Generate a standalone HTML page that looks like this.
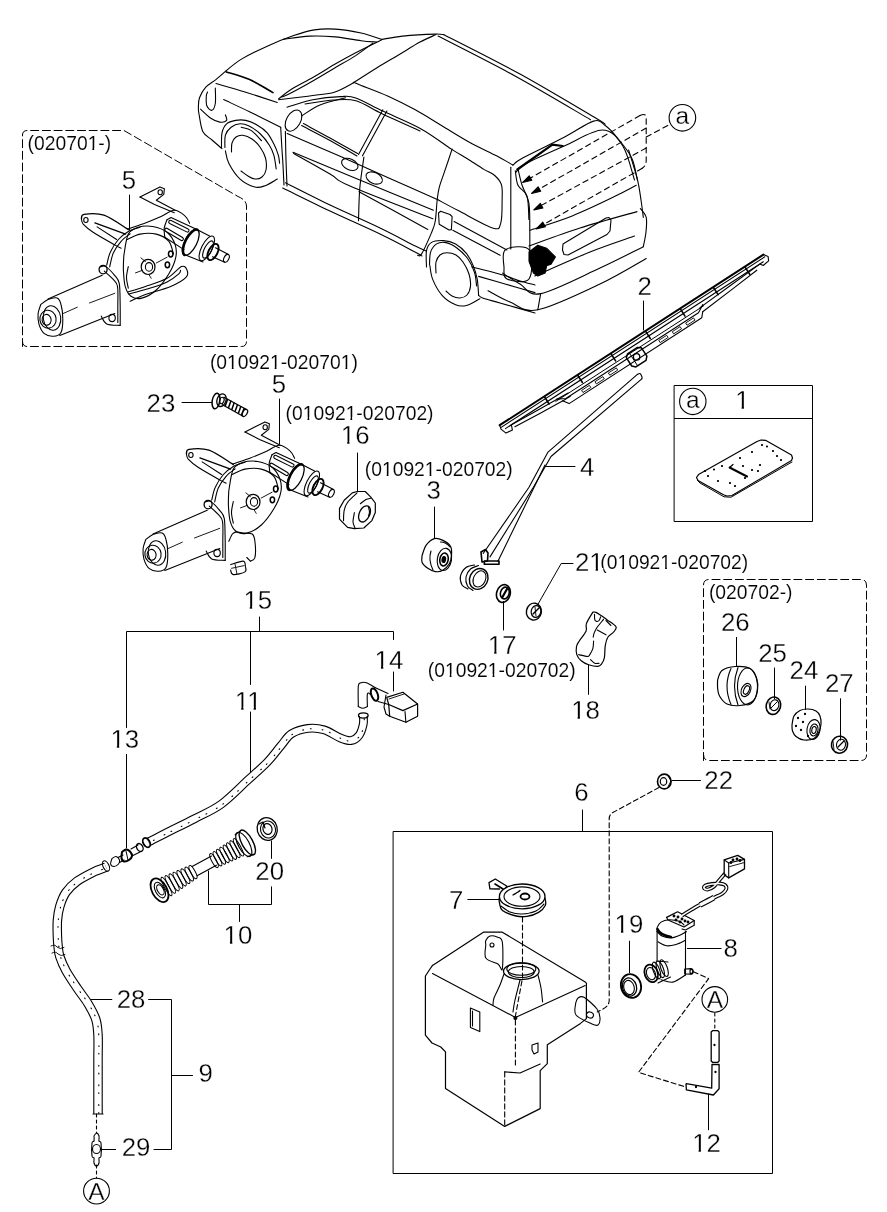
<!DOCTYPE html>
<html><head><meta charset="utf-8"><style>
html,body{margin:0;padding:0;background:#fff;}
svg{display:block;filter:grayscale(1);}
svg text{font-family:"Liberation Sans",sans-serif;fill:#000;stroke:#fff;stroke-width:0.3px;}
svg text.d{stroke-width:0.12px;}
</style></head><body>
<svg width="887" height="1212" viewBox="0 0 887 1212">
<rect width="887" height="1212" fill="#fff"/>
<g fill="none" stroke="#000" stroke-width="1.1" stroke-linejoin="round" stroke-linecap="round">
<text x="27.6" y="150.0" font-size="19.3" class="d">(020701-)</text>
<text x="121.8" y="188.6" font-size="25.8">5</text>
<text x="209.9" y="368.9" font-size="19.3" class="d">(010921-020701)</text>
<text x="271.8" y="392.5" font-size="25.8">5</text>
<text x="146.6" y="412.0" font-size="25.8">23</text>
<text x="285.6" y="419.5" font-size="19.3" class="d">(010921-020702)</text>
<text x="340.8" y="443.9" font-size="25.8">16</text>
<text x="364.8" y="475.6" font-size="19.3" class="d">(010921-020702)</text>
<text x="426.5" y="499.4" font-size="25.8">3</text>
<text x="580.0" y="476.0" font-size="25.8">4</text>
<text x="735.2" y="409.3" font-size="25.8">1</text>
<text x="637.6" y="294.5" font-size="25.8">2</text>
<text x="574.9" y="570.7" font-size="25.8">21</text>
<text x="600.3" y="568.9" font-size="19.3" class="d">(010921-020702)</text>
<text x="708.9" y="598.7" font-size="19.3" class="d">(020702-)</text>
<text x="721.0" y="630.9" font-size="25.8">26</text>
<text x="758.2" y="661.6" font-size="25.8">25</text>
<text x="789.6" y="678.9" font-size="25.8">24</text>
<text x="824.9" y="692.2" font-size="25.8">27</text>
<text x="571.2" y="718.6" font-size="25.8">18</text>
<text x="487.8" y="654.4" font-size="25.8">17</text>
<text x="427.8" y="676.5" font-size="19.3" class="d">(010921-020702)</text>
<text x="243.4" y="608.7" font-size="25.8">15</text>
<text x="374.6" y="668.9" font-size="25.8">14</text>
<text x="234.8" y="709.6" font-size="25.8">11</text>
<text x="110.5" y="747.5" font-size="25.8">13</text>
<text x="255.3" y="879.9" font-size="25.8">20</text>
<text x="223.6" y="944.3" font-size="25.8">10</text>
<text x="116.7" y="1007.6" font-size="25.8">28</text>
<text x="198.6" y="1081.5" font-size="25.8">9</text>
<text x="121.7" y="1156.4" font-size="25.8">29</text>
<text x="574.2" y="800.8" font-size="25.8">6</text>
<text x="704.3" y="788.9" font-size="25.8">22</text>
<text x="449.0" y="908.8" font-size="25.8">7</text>
<text x="614.6" y="933.3" font-size="25.8">19</text>
<text x="723.4" y="956.5" font-size="25.8">8</text>
<text x="692.2" y="1152.0" font-size="25.8">12</text>
<circle cx="682.4" cy="117.8" r="13.3"/>
<text x="682.4" y="124.4" font-size="24.5" text-anchor="middle">a</text>
<circle cx="692.8" cy="401.4" r="13.2"/>
<text x="692.8" y="408.0" font-size="24.5" text-anchor="middle">a</text>
<circle cx="96.5" cy="1191.1" r="12.9"/>
<text x="96.5" y="1199.6" font-size="24.5" text-anchor="middle">A</text>
<circle cx="714.8" cy="999.4" r="12.8"/>
<text x="714.8" y="1007.9" font-size="24.5" text-anchor="middle">A</text>
<path d="M22.5,346.5 L22.5,135 Q22.5,130.5 27,130.5 L124,130.5 L238,196.5 Q246.5,200 246.5,206 L246.5,341.5 Q246.5,346.5 241.5,346.5 L27,346.5 Q22.5,346.5 22.5,341.5" fill="none" stroke-width="1" stroke-dasharray="8 3.7"/>
<path d="M703.5,760.5 L703.5,585 Q703.5,579.5 709,579.5 L861,579.5 Q866.5,579.5 866.5,585 L866.5,755 Q866.5,760.5 861,760.5 L709,760.5 Q703.5,760.5 703.5,755" fill="none" stroke-width="1" stroke-dasharray="8 3.7"/>
<rect x="674.5" y="385.5" width="138" height="136" stroke-width="1"/>
<polyline points="674.5,418.5 812.5,418.5" stroke-width="1"/>
<rect x="393.5" y="831.5" width="379" height="342" stroke-width="1"/>
<polyline points="129.5,195 129.5,230" stroke-width="1"/>
<polyline points="279.5,399 279.5,444" stroke-width="1"/>
<polyline points="182,402.5 212,402.5" stroke-width="1"/>
<polyline points="357.5,453 357.5,491" stroke-width="1"/>
<polyline points="434.5,507 434.5,538" stroke-width="1"/>
<polyline points="545.5,466.5 575,466.5" stroke-width="1"/>
<polyline points="643.5,301 643.5,330" stroke-width="1"/>
<polyline points="537.8,604.5 561.2,563.5 573,563.5" stroke-width="1"/>
<polyline points="503.5,601.4 503.5,630" stroke-width="1"/>
<polyline points="588.5,664.6 588.5,694.4" stroke-width="1"/>
<polyline points="736.5,637.4 736.5,666.3" stroke-width="1"/>
<polyline points="774.5,668 774.5,698.7" stroke-width="1"/>
<polyline points="805.5,686.1 805.5,709.5" stroke-width="1"/>
<polyline points="840.5,698.7 840.5,740.2" stroke-width="1"/>
<polyline points="259.5,617 259.5,631.5" stroke-width="1"/>
<polyline points="126.5,727.5 126.5,631.5 393.5,631.5 393.5,639.5" stroke-width="1"/>
<polyline points="250.5,631.5 250.5,684.5" stroke-width="1"/>
<polyline points="250.5,712 250.5,773.6" stroke-width="1"/>
<polyline points="126.5,754.4 126.5,848" stroke-width="1"/>
<polyline points="393.5,672 393.5,691" stroke-width="1"/>
<polyline points="271.5,841 271.5,858.4" stroke-width="1"/>
<polyline points="271.5,886.8 271.5,904.5 208.5,904.5 208.5,871" stroke-width="1"/>
<polyline points="239.5,904.5 239.5,921.5" stroke-width="1"/>
<polyline points="90.8,999.5 111.8,999.5" stroke-width="1"/>
<polyline points="148.6,999.5 171.5,999.5 171.5,1149.5 154,1149.5" stroke-width="1"/>
<polyline points="171.5,1075.5 192.5,1075.5" stroke-width="1"/>
<polyline points="100.7,1149.5 115.6,1149.5" stroke-width="1"/>
<polyline points="582.5,810 582.5,831.5" stroke-width="1"/>
<polyline points="672.1,780.5 700.5,780.5" stroke-width="1"/>
<polyline points="467.8,899.5 499.3,899.5" stroke-width="1"/>
<polyline points="629.5,941.2 629.5,972.6" stroke-width="1"/>
<polyline points="687.4,948.5 721.1,948.5" stroke-width="1"/>
<polyline points="708.5,1094 708.5,1129.8" stroke-width="1"/>
<path d="M226.3,70.6 C228.9,68.6 235.0,63.0 241.9,58.9 C248.8,54.8 259.2,49.8 267.8,45.9 C276.4,42.0 285.9,38.3 293.7,35.6 C301.5,32.9 307.5,31.0 314.4,29.9 C321.3,28.8 327.4,28.6 335.2,29.1 C343.0,29.6 353.3,31.3 361.1,33.0 C368.9,34.7 378.4,38.3 381.9,39.4" fill="none"/>
<path d="M381.9,39.4 C385.3,38.9 393.7,37.0 402.6,36.1 C411.5,35.2 428.3,34.3 435.2,34.1 C442.1,33.9 442.5,34.6 444.0,34.7" fill="none"/>
<path d="M283.3,39.4 C287.6,38.9 300.7,36.5 309.3,36.1 C317.9,35.7 326.6,36.1 335.2,36.9 C343.8,37.7 354.2,39.9 361.1,40.7 C368.0,41.6 374.1,41.8 376.7,42.0" fill="none"/>
<path d="M381.4,40.0 C377.1,42.1 363.5,48.7 355.7,52.8 C347.9,56.9 341.4,60.5 334.3,64.6 C327.2,68.7 320.0,73.4 312.8,77.5 C305.6,81.6 297.1,85.7 291.4,89.3 C285.7,92.9 280.7,97.3 278.6,98.9" fill="none"/>
<path d="M372.8,43.2 C369.9,45.3 362.1,51.4 355.7,55.6 C349.3,59.8 341.4,64.0 334.3,68.2 C327.2,72.4 320.0,76.9 312.8,81.0 C305.6,85.1 296.6,90.1 291.4,92.8 C286.2,95.5 283.4,96.3 281.8,97.0" fill="none"/>
<path d="M226.3,71.9 C230.2,73.2 241.8,76.1 249.6,79.6 C257.4,83.0 269.1,90.4 273.0,92.6" fill="none" stroke-width="1.6"/>
<path d="M436.0,34.6 C433.3,35.9 426.2,38.7 420.0,42.1 C413.8,45.5 405.7,50.7 398.5,55.0 C391.3,59.3 384.5,63.2 377.0,67.8 C369.5,72.4 357.4,80.3 353.5,82.8" fill="none"/>
<path d="M278.6,99.8 C284.3,99.1 303.5,96.8 312.8,95.5 C322.1,94.2 327.4,94.4 334.2,92.3 C341.0,90.2 350.3,84.4 353.5,82.8" fill="none"/>
<path d="M287.0,107.2 C291.3,106.0 303.9,101.6 312.8,99.8 C321.7,98.0 333.4,96.9 340.6,96.6 C347.8,96.3 348.8,95.5 355.8,97.9 C362.8,100.3 372.0,106.0 382.8,111.1 C393.6,116.2 409.3,122.4 420.7,128.7 C432.1,135.0 443.7,144.1 451.4,149.1 C459.1,154.1 461.6,155.1 467.0,158.5 C472.4,161.9 479.3,166.6 483.9,169.4 C488.5,172.2 491.8,172.9 494.7,175.5 C497.6,178.1 500.3,180.6 501.5,184.9 C502.7,189.2 502.2,194.9 502.1,201.2 C502.0,207.5 502.3,218.3 500.8,222.8 C499.3,227.3 500.4,230.2 493.3,228.2 C486.2,226.2 467.4,215.3 458.2,210.6 C449.0,205.9 441.3,201.6 437.9,199.8" fill="none"/>
<path d="M305.0,104.0 C309.8,103.3 325.5,100.5 334.0,100.0 C342.5,99.5 348.0,98.5 356.0,100.8 C364.0,103.1 371.3,108.8 382.0,113.8 C392.7,118.8 413.7,128.1 420.0,131.0" fill="none"/>
<path d="M353.3,82.2 C354.6,82.7 355.4,83.1 361.2,85.4 C367.0,87.7 379.2,92.1 388.2,96.2 C397.2,100.3 406.3,104.8 415.3,109.8 C424.3,114.8 433.3,120.6 442.3,126.0 C451.3,131.4 460.4,137.2 469.4,142.2 C478.4,147.2 489.2,152.0 496.5,155.8 C503.8,159.6 510.2,163.6 512.9,165.1" fill="none"/>
<path d="M444.0,34.7 C456.7,41.2 495.1,60.3 520.0,74.0 C544.9,87.7 579.3,108.4 593.5,116.7 C607.7,125.0 603.2,122.9 605.2,124.1" fill="none"/>
<path d="M438.1,36.1 C450.9,42.8 489.6,62.1 515.0,76.0 C540.4,89.9 577.9,112.4 590.5,119.7" fill="none"/>
<path d="M512.9,165.1 C514.6,163.9 514.5,162.4 523.1,157.8 C531.7,153.2 552.5,143.4 564.2,137.3 C575.9,131.2 586.7,123.1 593.5,121.1 C600.3,119.1 601.3,122.8 605.2,125.5 C609.1,128.2 612.5,131.9 616.9,137.3 C621.3,142.7 628.2,150.7 631.6,157.8 C635.0,164.9 636.4,176.3 637.4,180.0" fill="none"/>
<path d="M515.8,172.4 C517.5,170.9 517.9,168.0 526.0,163.6 C534.1,159.2 551.5,151.6 564.2,146.0 C576.9,140.4 592.5,130.0 602.3,130.0 C612.1,130.0 617.4,137.7 622.8,146.0 C628.2,154.3 632.5,174.3 634.5,180.0" fill="none"/>
<path d="M517.3,169.5 L552.4,144.6 L562.7,146.0" fill="none" stroke-width="2.2"/>
<path d="M510.8,167.2 L510.8,249.0" fill="none"/>
<path d="M518.0,169.0 C518.7,171.7 520.2,179.3 522.0,185.0 C523.8,190.7 527.6,195.8 528.9,203.3 C530.2,210.9 529.6,221.3 529.8,230.3 C529.9,239.3 529.8,252.9 529.8,257.4" fill="none"/>
<path d="M515.3,170.8 C515.8,173.2 516.0,181.1 518.0,185.3 C520.0,189.5 525.2,190.4 527.0,196.1 C528.8,201.8 528.6,215.6 528.9,219.5" fill="none"/>
<path d="M529.8,230.3 C536.9,227.9 557.9,221.6 572.2,215.9 C586.5,210.2 604.7,201.2 615.4,196.1 C626.1,191.0 632.7,187.1 636.2,185.3" fill="none"/>
<path d="M628.6,150.0 C630.1,154.9 635.3,171.0 637.4,179.3 C639.5,187.6 640.0,193.7 641.0,200.0 C642.0,206.3 642.9,214.5 643.3,217.4" fill="none"/>
<path d="M640.4,208.6 C641.4,210.1 645.3,213.5 646.2,217.4 C647.1,221.3 646.5,227.1 646.0,232.0 C645.5,236.9 643.8,244.2 643.3,246.7" fill="none"/>
<path d="M529.0,246.0 C537.5,243.0 562.0,233.7 580.0,228.0 C598.0,222.3 627.5,214.3 637.0,211.6" fill="none"/>
<path d="M534.8,276.0 C544.0,272.0 573.4,258.7 590.0,252.0 C606.6,245.3 627.1,238.7 634.5,236.0" fill="none"/>
<path d="M502.6,273.1 C505.5,274.9 513.6,280.6 520.0,284.0 C526.4,287.4 527.4,296.3 540.7,293.6 C554.0,290.9 582.9,275.8 600.0,268.0 C617.1,260.2 636.1,250.2 643.3,246.7" fill="none"/>
<path d="M488.0,290.7 C491.7,292.6 501.7,298.8 510.0,302.0 C518.3,305.2 522.8,312.8 537.8,309.8 C552.8,306.8 581.9,292.6 600.0,284.0 C618.1,275.4 638.5,262.8 646.2,258.5" fill="none"/>
<path d="M540.7,293.6 C540.2,296.3 538.3,307.1 537.8,309.8" fill="none"/>
<path d="M563.0,244.0 L606.0,218.0 L609.0,217.5 L611.0,220.0 L610.0,231.0 L607.0,234.5 L568.0,255.0 L564.0,254.5 L562.5,250.0Z" fill="none"/>
<path d="M505.5,249.7 C509.7,246.8 525.1,244.8 529.0,249.7 C532.9,254.6 532.7,274.1 529.0,279.0 C525.3,283.9 511.2,280.9 507.0,279.0 C502.8,277.1 504.2,272.2 504.0,267.3 C503.8,262.4 501.3,252.6 505.5,249.7Z" fill="none"/>
<path d="M529.0,252.0 L537.8,245.3 L546.6,248.2 L555.4,257.0 L551.0,264.3 L546.6,265.8 L545.1,273.1 L537.8,276.0 L533.4,273.1 L529.0,261.4Z" fill="#000"/>
<path d="M452.1,149.1 C450.9,152.8 446.8,165.0 444.6,171.4 C442.5,177.8 440.4,182.9 439.2,187.6 C438.0,192.3 437.9,194.2 437.2,199.8 C436.5,205.5 436.2,215.9 435.2,221.5 C434.2,227.1 433.4,228.2 431.1,233.6 C428.8,239.0 423.9,250.3 421.6,253.9 C419.4,257.5 418.3,255.1 417.6,255.3" fill="none"/>
<path d="M440.6,211.3 L450.0,214.5 L452.1,216.7 L451.4,229.6 L449.0,230.0 L439.2,224.2 L438.5,213.0Z" fill="none"/>
<path d="M426.5,267.0 C426.5,264.3 425.7,254.8 426.5,250.7 C427.3,246.6 428.4,244.3 431.2,242.6 C434.0,240.9 439.3,240.4 443.4,240.6 C447.5,240.8 451.8,241.8 455.6,243.9 C459.4,246.0 463.5,249.8 466.4,253.4 C469.3,257.0 471.4,261.3 473.2,265.6 C475.0,269.9 476.3,274.2 477.2,279.1 C478.1,284.1 478.4,292.6 478.6,295.3" fill="none"/>
<path d="M429.5,265.0 C429.7,262.9 429.4,255.6 430.6,252.1 C431.8,248.6 434.0,245.5 436.6,243.9 C439.2,242.3 442.7,241.9 446.1,242.6 C449.5,243.3 453.3,245.3 456.9,248.0 C460.5,250.7 464.9,254.8 467.8,258.8 C470.7,262.9 473.0,267.8 474.5,272.3 C476.0,276.8 476.2,283.6 476.6,285.9" fill="none"/>
<path d="M429.9,265.6 C430.3,267.9 430.6,274.2 432.6,279.1 C434.6,284.1 438.3,291.0 442.1,295.3 C445.9,299.6 451.6,303.1 455.6,304.8 C459.7,306.5 462.3,306.5 466.4,305.5 C470.4,304.5 477.6,299.8 479.9,298.7" fill="none"/>
<path d="M436.0,273.0 C436.0,271.2 435.3,265.0 436.0,262.0 C436.7,259.0 438.2,256.6 440.0,255.0 C441.8,253.4 444.3,252.7 447.0,252.7 C449.7,252.7 453.3,253.4 456.0,255.0 C458.7,256.6 460.8,258.8 463.0,262.0 C465.2,265.2 467.8,270.0 469.0,274.0 C470.2,278.0 470.8,282.5 470.5,286.0 C470.2,289.5 468.8,293.0 467.0,295.0 C465.2,297.0 462.5,297.8 460.0,298.0 C457.5,298.2 454.3,297.2 452.0,296.0 C449.7,294.8 447.0,291.8 446.0,291.0" fill="none"/>
<path d="M478.6,295.3 C479.3,295.8 479.0,296.7 482.6,298.0 C486.2,299.3 491.3,300.5 500.0,303.0 C508.7,305.5 529.2,311.3 535.0,313.0" fill="none"/>
<path d="M471.8,266.9 C477.0,268.2 494.9,272.6 502.9,275.0 C510.9,277.4 514.6,279.3 520.0,281.0 C525.4,282.7 532.5,284.3 535.0,285.0" fill="none"/>
<path d="M478.6,276.4 C483.0,277.7 495.6,281.3 505.0,284.0 C514.4,286.7 530.0,291.2 535.0,292.6" fill="none"/>
<path d="M287.2,133.5 C295.9,137.3 322.7,148.7 339.5,156.1 C356.3,163.5 371.8,170.4 388.2,177.7 C404.6,185.0 429.6,196.1 437.9,199.8" fill="none"/>
<path d="M293.0,152.2 C304.1,156.8 336.4,170.3 359.8,180.0 C383.2,189.7 421.1,205.2 433.4,210.3" fill="none"/>
<path d="M293.6,153.5 C299.7,156.9 320.6,168.6 330.0,174.0 C339.4,179.4 332.9,178.6 350.0,186.1 C367.1,193.6 419.1,213.4 432.9,218.8" fill="none"/>
<path d="M359.0,191.7 C370.5,198.0 416.3,223.2 427.8,229.5" fill="none"/>
<path d="M454.1,221.5 C462.9,226.2 498.1,245.2 506.9,249.9" fill="none"/>
<path d="M452.8,230.3 C460.7,234.5 492.2,251.1 500.1,255.3" fill="none"/>
<path d="M285.4,182.8 C292.8,186.5 314.2,197.5 330.0,205.0 C345.8,212.5 365.8,221.2 380.0,228.0 C394.2,234.8 407.6,242.2 415.3,246.0 C423.0,249.8 424.2,250.2 426.0,251.0" fill="none"/>
<path d="M282.7,188.0 C290.6,191.8 313.8,203.3 330.0,211.0 C346.2,218.7 365.8,227.2 380.0,234.0 C394.2,240.8 408.0,248.3 415.0,252.0 C422.0,255.7 420.8,255.3 422.0,256.0" fill="none"/>
<path d="M303.4,123.6 C307.8,126.0 321.0,133.0 330.0,138.0 C339.0,143.0 353.0,150.8 357.6,153.4" fill="none"/>
<path d="M301.6,125.6 C306.3,128.1 320.8,135.4 330.0,140.5 C339.2,145.6 352.5,153.4 357.0,156.0" fill="none"/>
<path d="M382.8,109.8 L358.5,154.4" fill="none"/>
<path d="M386.9,111.1 L362.5,155.8" fill="none"/>
<path d="M363.9,157.1 C363.2,162.3 360.7,177.6 359.8,188.2 C358.9,198.8 358.7,215.3 358.5,220.7" fill="none"/>
<path d="M301.5,116.0 C304.6,114.2 312.6,108.0 320.0,105.0 C327.4,102.0 341.3,99.0 345.6,97.8" fill="none"/>
<ellipse cx="293.5" cy="120.6" rx="7" ry="11.5" transform="rotate(30 293.5 120.6)" fill="none"/>
<ellipse cx="349.8" cy="164.4" rx="8.7" ry="5.4" transform="rotate(25 349.8 164.4)" fill="none"/>
<ellipse cx="374.2" cy="178" rx="8.7" ry="5.4" transform="rotate(25 374.2 178)" fill="none"/>
<path d="M226.3,70.6 C224.6,72.1 219.4,76.8 215.9,79.6 C212.4,82.4 208.3,84.4 205.6,87.4 C202.9,90.4 200.7,94.5 199.5,97.8 C198.3,101.1 198.5,104.3 198.4,107.0 C198.3,109.7 198.2,109.9 199.0,114.0 C199.8,118.1 200.7,127.4 202.9,131.7 C205.1,136.0 208.8,137.2 212.0,140.0 C215.2,142.8 220.3,147.2 222.0,148.6" fill="none"/>
<path d="M207.5,92.0 C207.3,92.7 206.4,93.7 206.3,96.0 C206.2,98.3 205.9,103.4 206.8,105.8 C207.7,108.2 210.5,110.7 211.9,110.3 C213.3,109.9 214.7,107.2 215.3,103.5 C215.9,99.8 215.3,90.6 215.3,88.0" fill="none"/>
<path d="M200.6,109.2 C202.3,110.7 207.6,116.1 210.8,118.2 C214.0,120.3 217.2,121.7 219.8,122.1 C222.4,122.5 225.7,121.6 226.6,120.4 C227.5,119.2 225.6,115.7 225.4,114.8" fill="none"/>
<path d="M216.0,83.5 C220.8,84.9 234.8,88.8 245.0,92.0 C255.2,95.2 271.9,100.7 277.3,102.4" fill="none"/>
<path d="M223.7,99.6 C228.1,101.7 240.5,107.4 250.0,112.0 C259.5,116.6 275.6,124.7 280.7,127.2" fill="none"/>
<path d="M221.5,147.5 C221.6,145.1 221.2,136.8 222.0,132.8 C222.8,128.9 224.3,125.9 226.6,123.8 C228.9,121.7 232.4,121.0 235.6,120.4 C238.8,119.8 242.1,119.6 245.7,120.4 C249.3,121.2 253.4,122.9 257.0,125.0 C260.6,127.1 264.4,129.6 267.2,132.8 C270.0,136.0 272.0,140.3 273.9,144.1 C275.8,147.9 277.4,152.2 278.4,155.4 C279.3,158.6 279.4,162.0 279.6,163.3" fill="none"/>
<path d="M224.9,147.5 C225.0,145.4 224.4,138.5 225.4,135.1 C226.4,131.7 228.7,129.1 231.1,127.2 C233.5,125.3 237.1,124.0 240.1,123.8 C243.1,123.6 245.7,124.4 249.1,126.1 C252.5,127.8 257.0,130.8 260.4,134.0 C263.8,137.2 267.1,141.6 269.4,145.2 C271.6,148.8 272.8,151.4 273.9,155.4 C275.0,159.4 275.8,166.7 276.2,168.9" fill="none"/>
<path d="M241.2,127.2 C242.9,127.8 248.0,128.3 251.4,130.6 C254.8,132.8 259.8,139.0 261.5,140.7" fill="none"/>
<path d="M225.4,150.9 C226.0,153.0 226.4,158.6 228.8,163.3 C231.2,168.0 235.8,175.2 240.1,179.1 C244.4,183.0 250.7,185.9 254.8,187.0 C258.9,188.1 261.1,187.1 264.9,185.8 C268.6,184.5 275.2,180.2 277.3,179.1" fill="none"/>
<path d="M231.5,152.0 C231.6,150.5 231.2,145.5 232.0,143.0 C232.8,140.5 234.2,138.3 236.0,137.0 C237.8,135.7 240.3,135.0 243.0,135.3 C245.7,135.6 249.2,137.1 252.0,139.0 C254.8,140.9 257.8,143.8 260.0,147.0 C262.2,150.2 264.5,154.2 265.5,158.0 C266.5,161.8 266.6,166.8 266.0,170.0 C265.4,173.2 263.8,175.5 262.0,177.0 C260.2,178.5 257.3,179.2 255.0,179.0 C252.7,178.8 250.3,177.3 248.0,176.0 C245.7,174.7 242.2,171.8 241.0,171.0" fill="none"/>
<path d="M280.7,127.2 C280.9,131.0 281.6,143.7 282.0,150.0 C282.4,156.3 282.7,159.2 283.0,165.0 C283.3,170.8 283.8,181.7 284.0,185.0" fill="none"/>
<path d="M285.4,131.4 C285.5,136.2 285.7,150.9 286.0,160.0 C286.3,169.1 286.8,181.7 287.0,186.0" fill="none"/>
<path d="M640,115.5 Q646.2,112.5 646.2,118 L646.2,161 Q646,166 642.3,168.2" fill="none" stroke-dasharray="5.5 4"/>
<path d="M640.0,115.5 L527.0,180.0" fill="none" stroke-dasharray="5.5 4"/>
<path d="M646.2,128.0 L535.0,191.5" fill="none" stroke-dasharray="5.5 4"/>
<path d="M646.2,148.0 L537.5,207.5" fill="none" stroke-dasharray="5.5 4"/>
<path d="M642.3,168.2 L540.0,226.5" fill="none" stroke-dasharray="5.5 4"/>
<path d="M646.2,137.0 L670.0,124.2" fill="none" stroke-dasharray="5.5 4"/>
<path d="M522.7,182.5 L529.2,175.8 L531.8,180.3Z" fill="#000"/>
<path d="M531.6,193.5 L538.1,186.8 L540.7,191.3Z" fill="#000"/>
<path d="M533.8,210.0 L540.4,203.4 L542.9,207.9Z" fill="#000"/>
<path d="M536.3,228.9 L542.8,222.2 L545.4,226.7Z" fill="#000"/>
<path d="M40.8,304.5 C42.0,303.6 45.3,300.5 48.0,299.4 C50.7,298.4 54.9,297.3 57.1,298.1 C59.2,299.0 60.1,301.0 61.0,304.5 C62.0,307.9 62.8,314.2 62.8,318.9 C62.8,323.5 62.6,329.5 61.0,332.4 C59.5,335.3 56.2,336.0 53.4,336.2 C50.7,336.4 46.8,335.7 44.4,333.7 C42.0,331.7 40.1,327.7 39.0,324.3 C38.0,320.9 37.8,316.8 38.1,313.5 C38.4,310.2 40.4,306.0 40.8,304.5" fill="none"/>
<ellipse cx="52.0" cy="318.0" rx="8.7" ry="12.3" transform="rotate(-8 52.0 318.0)" fill="none"/>
<ellipse cx="48.0" cy="319.2" rx="8.1" ry="9.0" transform="rotate(-8 48.0 319.2)" fill="none"/>
<ellipse cx="46.6" cy="319.8" rx="4.5" ry="5.4" transform="rotate(-8 46.6 319.8)" fill="none"/>
<path d="M48.0,299.0 L102.2,275.2" fill="none"/>
<path d="M59.8,335.5 L114.8,313.5" fill="none"/>
<path d="M62.5,313.8 L77.3,307.2" fill="none" stroke-width="0.9"/>
<path d="M89.5,303.0 L114.8,293.3" fill="none" stroke-width="0.9"/>
<path d="M100.7,266.9 C101.5,266.9 103.4,265.1 105.8,266.6 C108.1,268.0 112.5,272.7 114.8,275.6 C117.0,278.5 118.4,278.6 119.3,283.7 C120.2,288.8 120.0,299.3 120.2,306.3 C120.3,313.2 120.2,322.0 120.2,325.2" fill="none"/>
<path d="M104.3,271.1 C105.8,272.4 110.8,276.7 113.0,279.2 C115.2,281.8 116.7,281.9 117.5,286.4 C118.3,290.9 117.8,300.3 117.8,306.3 C117.9,312.3 117.8,319.8 117.8,322.5" fill="none"/>
<path d="M101.2,316.2 C102.2,317.5 103.5,322.4 106.7,323.9 C109.8,325.5 117.9,325.1 120.2,325.4" fill="none"/>
<ellipse cx="112.1" cy="318.0" rx="3.2" ry="3.6" transform="rotate(0 112.1 318.0)" fill="none"/>
<ellipse cx="103.1" cy="269.6" rx="4.0" ry="4.3" transform="rotate(0 103.1 269.6)" fill="none" stroke-width="1.3"/>
<path d="M123.8,255.8 C124.5,252.2 125.9,238.9 128.3,234.1 C130.7,229.4 134.2,228.5 138.2,227.3 C142.3,226.0 147.8,225.7 152.7,226.5 C157.5,227.4 163.3,229.2 167.1,232.3 C170.8,235.4 173.8,240.7 175.2,244.9 C176.6,249.1 176.8,252.8 175.7,257.6 C174.7,262.4 172.1,268.4 168.9,273.8 C165.6,279.2 160.8,286.0 156.3,290.0 C151.8,294.1 146.0,297.1 141.8,298.1 C137.6,299.2 133.8,298.3 131.0,296.3 C128.2,294.4 126.5,290.8 125.2,286.4 C124.0,282.1 123.7,275.3 123.4,270.2 C123.2,265.1 123.7,258.2 123.8,255.8" fill="none"/>
<path d="M127.4,239.5 C129.5,238.6 135.2,235.0 140.0,234.1 C144.8,233.2 151.5,232.9 156.3,234.1 C161.1,235.3 166.0,238.0 168.9,241.3 C171.7,244.6 172.6,251.8 173.4,254.0" fill="none"/>
<path d="M128.3,266.6 C128.0,268.4 126.5,273.8 126.5,277.4 C126.5,281.0 128.0,286.4 128.3,288.2" fill="none"/>
<ellipse cx="148.1" cy="266.9" rx="6.9" ry="7.6" transform="rotate(0 148.1 266.9)" fill="none" stroke-width="1.2"/>
<ellipse cx="149.0" cy="266.9" rx="3.6" ry="4.3" transform="rotate(0 149.0 266.9)" fill="none"/>
<path d="M135.5,272.9 L142.7,270.2" fill="none" stroke-width="0.9"/>
<path d="M156.3,263.0 L167.1,257.2" fill="none" stroke-width="0.9"/>
<path d="M140.9,257.9 L145.4,261.5" fill="none" stroke-width="0.9"/>
<path d="M149.0,274.7 L151.2,278.3" fill="none" stroke-width="0.9"/>
<ellipse cx="170.7" cy="254.0" rx="2.2" ry="2.9" transform="rotate(0 170.7 254.0)" fill="none" stroke-width="1.5"/>
<ellipse cx="167.4" cy="264.8" rx="2.2" ry="2.9" transform="rotate(0 167.4 264.8)" fill="none" stroke-width="1.5"/>
<path d="M106.7,265.1 C107.3,263.0 108.3,256.4 110.3,252.2 C112.2,247.9 115.4,243.0 118.4,239.5 C121.4,236.1 124.7,233.5 128.3,231.4 C131.9,229.4 138.1,227.9 140.0,227.3" fill="none"/>
<path d="M109.7,266.9 C110.3,264.6 111.4,257.3 113.3,253.1 C115.2,248.8 118.3,244.5 121.1,241.3 C123.9,238.1 128.6,235.0 130.1,233.8" fill="none"/>
<path d="M81.4,218.8 C81.9,218.0 80.4,214.9 84.1,214.3 C87.9,213.7 96.6,212.6 104.0,215.2 C111.3,217.7 124.2,227.2 128.3,229.6" fill="none" stroke-width="1.3"/>
<path d="M81.4,218.8 C81.7,219.7 81.3,221.9 83.2,224.2 C85.2,226.4 87.9,228.9 93.1,232.3 C98.4,235.8 110.1,242.3 114.8,244.9 C119.4,247.6 120.0,247.6 121.1,248.2" fill="none"/>
<path d="M94.9,222.9 L125.6,234.1" fill="none" stroke-width="1.3"/>
<path d="M97.1,226.9 L116.6,239.5" fill="none"/>
<ellipse cx="85.9" cy="220.0" rx="2.2" ry="2.5" transform="rotate(0 85.9 220.0)" fill="none"/>
<path d="M140.0,197.1 L159.9,186.9 L164.4,188.7 L163.8,194.4 L156.3,200.2 L175.2,210.3" fill="none"/>
<path d="M140.0,197.1 L154.5,204.4 L174.3,212.8" fill="none"/>
<ellipse cx="160.2" cy="192.3" rx="2.2" ry="2.5" transform="rotate(0 160.2 192.3)" fill="none"/>
<path d="M127.4,229.1 C130.4,228.0 140.0,224.9 145.4,222.9 C150.9,220.9 155.1,219.1 159.9,217.0 C164.7,214.9 170.1,210.5 174.3,210.3 C178.5,210.2 182.6,213.9 185.1,216.1 C187.7,218.2 188.9,222.1 189.6,223.3" fill="none"/>
<path d="M167.0,219.7 C166.5,221.1 164.6,225.3 164.2,228.2 C163.8,231.1 164.7,235.7 164.8,237.2" fill="none"/>
<path d="M167.0,219.7 L171.0,217.5 L196.4,229.3" fill="none"/>
<path d="M164.8,237.2 L184.0,249.6" fill="none"/>
<path d="M170.4,222.0 L187.4,230.4" stroke-width="4.4"/>
<path d="M170.4,222.0 L187.4,230.4" stroke="#fff" stroke-width="2.2"/>
<path d="M166.5,229.9 L181.7,238.9" stroke-width="4.4"/>
<path d="M166.5,229.9 L181.7,238.9" stroke="#fff" stroke-width="2.2"/>
<ellipse cx="190.8" cy="242.3" rx="6" ry="14.2" transform="rotate(27 190.8 242.3)" fill="none" stroke-width="1.3"/>
<path d="M197.3,229.7 A6,14.2 27 0 0 184.4,254.9" fill="none" stroke-width="2.6"/>
<path d="M196.0,229.0 L209.5,236.0" fill="none"/>
<path d="M185.5,255.0 L203.0,262.0" fill="none"/>
<ellipse cx="206.8" cy="248.4" rx="5.2" ry="13.6" transform="rotate(27 206.8 248.4)" fill="none"/>
<ellipse cx="208" cy="249.5" rx="3.6" ry="9.5" transform="rotate(27 208 249.5)" fill="none"/>
<ellipse cx="213" cy="252" rx="4.5" ry="8.8" transform="rotate(27 213 252)" fill="none" stroke-width="1.9"/>
<path d="M215.5,247.8 L228.1,254.3" fill="none"/>
<path d="M212.5,256.8 L224.6,262.2" fill="none"/>
<ellipse cx="226.4" cy="258.3" rx="2.4" ry="4.2" transform="rotate(27 226.4 258.3)" fill="none"/>
<path d="M128.3,291.8 C131.2,290.9 139.0,288.7 145.4,286.4 C151.9,284.2 161.1,281.6 167.1,278.3 C173.1,275.0 178.2,268.0 181.5,266.6 C184.8,265.2 186.2,268.0 186.9,269.8 C187.7,271.6 188.7,274.6 186.0,277.4 C183.3,280.2 177.5,283.6 170.7,286.4 C163.9,289.3 152.2,292.1 145.4,294.5 C138.7,297.0 132.7,300.1 130.1,301.2" fill="none"/>
<path d="M128.8,294.0 C131.9,293.2 140.9,291.1 147.2,289.1 C153.6,287.1 161.8,284.5 167.1,281.9 C172.3,279.4 176.6,275.7 178.8,273.8 C181.1,271.8 180.3,270.8 180.6,270.2" fill="none"/>
<path d="M145.8,539.5 C147.0,538.6 150.3,535.5 153.0,534.4 C155.7,533.4 159.9,532.3 162.1,533.1 C164.2,534.0 165.1,536.0 166.0,539.5 C167.0,542.9 167.8,549.2 167.8,553.9 C167.8,558.5 167.6,564.5 166.0,567.4 C164.5,570.3 161.2,571.0 158.4,571.2 C155.7,571.4 151.8,570.7 149.4,568.7 C147.0,566.7 145.1,562.7 144.0,559.3 C143.0,555.9 142.8,551.8 143.1,548.5 C143.4,545.2 145.4,541.0 145.8,539.5" fill="none"/>
<ellipse cx="157.0" cy="553.0" rx="8.7" ry="12.3" transform="rotate(-8 157.0 553.0)" fill="none"/>
<ellipse cx="153.0" cy="554.2" rx="8.1" ry="9.0" transform="rotate(-8 153.0 554.2)" fill="none"/>
<ellipse cx="151.6" cy="554.8" rx="4.5" ry="5.4" transform="rotate(-8 151.6 554.8)" fill="none"/>
<path d="M153.0,534.0 L207.2,510.2" fill="none"/>
<path d="M164.8,570.5 L219.8,548.5" fill="none"/>
<path d="M167.5,548.8 L182.3,542.2" fill="none" stroke-width="0.9"/>
<path d="M194.5,538.0 L219.8,528.3" fill="none" stroke-width="0.9"/>
<path d="M205.7,501.9 C206.5,501.9 208.4,500.1 210.8,501.6 C213.1,503.0 217.5,507.7 219.8,510.6 C222.0,513.5 223.4,513.6 224.3,518.7 C225.2,523.8 225.0,534.3 225.2,541.3 C225.3,548.2 225.2,557.0 225.2,560.2" fill="none"/>
<path d="M209.3,506.1 C210.8,507.4 215.8,511.7 218.0,514.2 C220.2,516.8 221.7,516.9 222.5,521.4 C223.3,525.9 222.8,535.3 222.8,541.3 C222.9,547.3 222.8,554.8 222.8,557.5" fill="none"/>
<path d="M206.2,551.2 C207.2,552.5 208.5,557.4 211.7,558.9 C214.8,560.5 222.9,560.1 225.2,560.4" fill="none"/>
<ellipse cx="217.1" cy="553.0" rx="3.2" ry="3.6" transform="rotate(0 217.1 553.0)" fill="none"/>
<ellipse cx="208.1" cy="504.6" rx="4.0" ry="4.3" transform="rotate(0 208.1 504.6)" fill="none" stroke-width="1.3"/>
<path d="M228.8,490.8 C229.5,487.2 230.9,473.9 233.3,469.1 C235.7,464.4 239.2,463.5 243.2,462.3 C247.3,461.0 252.8,460.7 257.7,461.5 C262.5,462.4 268.3,464.2 272.1,467.3 C275.8,470.4 278.8,475.7 280.2,479.9 C281.6,484.1 281.8,487.8 280.7,492.6 C279.7,497.4 277.1,503.4 273.9,508.8 C270.6,514.2 265.8,521.0 261.3,525.0 C256.8,529.1 251.0,532.1 246.8,533.1 C242.6,534.2 238.8,533.3 236.0,531.3 C233.2,529.4 231.5,525.8 230.2,521.4 C229.0,517.1 228.7,510.3 228.4,505.2 C228.2,500.1 228.7,493.2 228.8,490.8" fill="none"/>
<path d="M232.4,474.5 C234.5,473.6 240.2,470.0 245.0,469.1 C249.8,468.2 256.5,467.9 261.3,469.1 C266.1,470.3 271.0,473.0 273.9,476.3 C276.7,479.6 277.6,486.8 278.4,489.0" fill="none"/>
<path d="M233.3,501.6 C233.0,503.4 231.5,508.8 231.5,512.4 C231.5,516.0 233.0,521.4 233.3,523.2" fill="none"/>
<ellipse cx="253.1" cy="501.9" rx="6.9" ry="7.6" transform="rotate(0 253.1 501.9)" fill="none" stroke-width="1.2"/>
<ellipse cx="254.0" cy="501.9" rx="3.6" ry="4.3" transform="rotate(0 254.0 501.9)" fill="none"/>
<path d="M240.5,507.9 L247.7,505.2" fill="none" stroke-width="0.9"/>
<path d="M261.3,498.0 L272.1,492.2" fill="none" stroke-width="0.9"/>
<path d="M245.9,492.9 L250.4,496.5" fill="none" stroke-width="0.9"/>
<path d="M254.0,509.7 L256.2,513.3" fill="none" stroke-width="0.9"/>
<ellipse cx="275.7" cy="489.0" rx="2.2" ry="2.9" transform="rotate(0 275.7 489.0)" fill="none" stroke-width="1.5"/>
<ellipse cx="272.4" cy="499.8" rx="2.2" ry="2.9" transform="rotate(0 272.4 499.8)" fill="none" stroke-width="1.5"/>
<path d="M211.7,500.1 C212.3,498.0 213.3,491.4 215.3,487.2 C217.2,482.9 220.4,478.0 223.4,474.5 C226.4,471.1 229.7,468.5 233.3,466.4 C236.9,464.4 243.1,462.9 245.0,462.3" fill="none"/>
<path d="M214.7,501.9 C215.3,499.6 216.4,492.3 218.3,488.1 C220.2,483.8 223.3,479.5 226.1,476.3 C228.9,473.1 233.6,470.0 235.1,468.8" fill="none"/>
<path d="M186.4,453.8 C186.9,453.0 185.4,449.9 189.1,449.3 C192.9,448.7 201.6,447.6 209.0,450.2 C216.3,452.7 229.2,462.2 233.3,464.6" fill="none" stroke-width="1.3"/>
<path d="M186.4,453.8 C186.7,454.7 186.3,456.9 188.2,459.2 C190.2,461.4 192.9,463.9 198.1,467.3 C203.4,470.8 215.1,477.3 219.8,479.9 C224.4,482.6 225.0,482.6 226.1,483.2" fill="none"/>
<path d="M199.9,457.9 L230.6,469.1" fill="none" stroke-width="1.3"/>
<path d="M202.1,461.9 L221.6,474.5" fill="none"/>
<ellipse cx="190.9" cy="455.0" rx="2.2" ry="2.5" transform="rotate(0 190.9 455.0)" fill="none"/>
<path d="M245.0,432.1 L264.9,421.9 L269.4,423.7 L268.8,429.4 L261.3,435.2 L280.2,445.3" fill="none"/>
<path d="M245.0,432.1 L259.5,439.4 L279.3,447.8" fill="none"/>
<ellipse cx="265.2" cy="427.3" rx="2.2" ry="2.5" transform="rotate(0 265.2 427.3)" fill="none"/>
<path d="M232.4,464.1 C235.4,463.0 245.0,459.9 250.4,457.9 C255.9,455.9 260.1,454.1 264.9,452.0 C269.7,449.9 275.1,445.5 279.3,445.3 C283.5,445.2 287.6,448.9 290.1,451.1 C292.7,453.2 293.9,457.1 294.6,458.3" fill="none"/>
<path d="M272.0,454.7 C271.5,456.1 269.6,460.3 269.2,463.2 C268.8,466.1 269.7,470.7 269.8,472.2" fill="none"/>
<path d="M272.0,454.7 L276.0,452.5 L301.4,464.3" fill="none"/>
<path d="M269.8,472.2 L289.0,484.6" fill="none"/>
<path d="M275.4,457.0 L292.4,465.4" stroke-width="4.4"/>
<path d="M275.4,457.0 L292.4,465.4" stroke="#fff" stroke-width="2.2"/>
<path d="M271.5,464.9 L286.7,473.9" stroke-width="4.4"/>
<path d="M271.5,464.9 L286.7,473.9" stroke="#fff" stroke-width="2.2"/>
<ellipse cx="295.8" cy="477.3" rx="6" ry="14.2" transform="rotate(27 295.8 477.3)" fill="none" stroke-width="1.3"/>
<path d="M302.3,464.6 A6,14.2 27 0 0 289.4,489.9" fill="none" stroke-width="2.6"/>
<path d="M301.0,464.0 L314.5,471.0" fill="none"/>
<path d="M290.5,490.0 L308.0,497.0" fill="none"/>
<ellipse cx="311.8" cy="483.4" rx="5.2" ry="13.6" transform="rotate(27 311.8 483.4)" fill="none"/>
<ellipse cx="313" cy="484.5" rx="3.6" ry="9.5" transform="rotate(27 313 484.5)" fill="none"/>
<ellipse cx="318" cy="487" rx="4.5" ry="8.8" transform="rotate(27 318 487)" fill="none" stroke-width="1.9"/>
<path d="M320.5,482.8 L333.1,489.3" fill="none"/>
<path d="M317.5,491.8 L329.6,497.2" fill="none"/>
<ellipse cx="331.4" cy="493.3" rx="2.4" ry="4.2" transform="rotate(27 331.4 493.3)" fill="none"/>
<path d="M236.0,531.9 C237.2,532.1 240.5,532.8 243.2,533.1 C245.9,533.5 250.3,532.7 252.2,534.0 C254.2,535.4 254.5,537.4 254.9,541.3 C255.4,545.2 255.7,554.2 254.9,557.5 C254.2,560.8 251.2,560.5 250.4,561.1" fill="none"/>
<path d="M236.0,531.9 C235.4,532.2 233.6,532.5 232.4,534.0 C231.2,535.6 229.4,540.1 228.8,541.3" fill="none"/>
<path d="M246.8,557.5 L250.4,561.1" fill="none"/>
<path d="M230.6,564.7 C232.7,564.1 240.8,560.8 243.2,561.1 C245.7,561.4 245.1,564.7 245.4,566.5 C245.7,568.3 247.0,570.6 245.0,571.9 C243.0,573.3 235.7,574.9 233.3,574.6 C230.9,574.3 231.0,570.9 230.6,570.1" fill="none"/>
<path d="M235.1,564.4 L236.9,573.7" fill="none" stroke-width="0.9"/>
<path d="M231.5,568.3 L244.1,565.6" fill="none" stroke-width="0.9"/>
<ellipse cx="216" cy="401" rx="3.8" ry="7.8" transform="rotate(10 216 401)" fill="none" stroke-width="1.5"/>
<ellipse cx="221.5" cy="400.2" rx="4.5" ry="6.5" transform="rotate(20 221.5 400.2)" fill="none" stroke-width="1.3"/>
<ellipse cx="221.8" cy="400.5" rx="2.2" ry="3.3" transform="rotate(20 221.8 400.5)" fill="none"/>
<path d="M224.0,397.3 L246.0,409.3" fill="none" stroke-width="1.3"/>
<path d="M222.5,404.8 L243.5,416.5" fill="none" stroke-width="1.3"/>
<path d="M227.5,399.5 L225.3,405.7" fill="none" stroke-width="1.5"/>
<path d="M230.8,401.3 L228.6,407.5" fill="none" stroke-width="1.5"/>
<path d="M234.1,403.1 L231.9,409.3" fill="none" stroke-width="1.5"/>
<path d="M237.4,404.9 L235.2,411.1" fill="none" stroke-width="1.5"/>
<path d="M240.7,406.7 L238.5,412.9" fill="none" stroke-width="1.5"/>
<path d="M244.0,408.5 L241.8,414.7" fill="none" stroke-width="1.5"/>
<ellipse cx="244.8" cy="412.9" rx="2.3" ry="3.9" transform="rotate(30 244.8 412.9)" fill="none" stroke-width="1.3"/>
<path d="M339.5,508.4 L344.2,500.3 L352.3,492.9 L357.1,491.5 L365.2,491.5 L370.6,496.9 L375.3,503.0 L375.3,512.5 L371.9,520.6 L363.8,528.0 L354.4,528.7 L347.6,527.4 L342.9,522.6 L339.5,519.2Z" fill="none" stroke-width="1.2"/>
<path d="M343.5,520.6 C343.6,518.9 343.5,513.4 344.2,510.4 C344.9,507.3 345.5,505.2 347.6,502.3 C349.8,499.4 355.5,494.5 357.1,492.9" fill="none"/>
<path d="M360.4,503.7 C361.3,503.0 364.3,500.4 366.0,499.5 C367.7,498.6 369.8,498.5 370.6,498.3" fill="none"/>
<path d="M354.4,512.5 C354.2,514.1 352.9,519.4 353.0,522.0 C353.1,524.6 354.7,527.0 355.0,528.0" fill="none"/>
<ellipse cx="364.5" cy="513.9" rx="5.2" ry="8.6" transform="rotate(25 364.5 513.9)" fill="none" stroke-width="1.3"/>
<path d="M368.5,507.5 C368.7,508.2 369.5,510.6 369.5,512.0 C369.5,513.4 368.7,515.3 368.5,516.0" fill="none"/>
<path d="M422.1,555.4 C422.8,553.7 424.2,548.0 426.2,545.2 C428.2,542.4 431.6,539.5 434.3,538.6 C437.0,537.8 439.7,538.8 442.4,540.1 C445.1,541.4 449.0,543.7 450.5,546.2 C452.0,548.8 451.7,552.5 451.5,555.4 C451.3,558.3 451.0,561.0 449.5,563.5 C448.0,566.0 444.8,569.2 442.4,570.6 C440.0,572.0 437.7,571.9 435.3,571.6 C432.9,571.3 430.4,570.1 428.2,568.6 C426.0,567.1 423.1,564.7 422.1,562.5 C421.1,560.3 422.1,556.6 422.1,555.4" fill="none" stroke-width="1.2"/>
<ellipse cx="444.4" cy="559.4" rx="7.1" ry="11.2" transform="rotate(10 444.4 559.4)" fill="none"/>
<ellipse cx="444" cy="559.5" rx="4.2" ry="6.5" transform="rotate(10 444 559.5)" fill="none" stroke-width="1.6"/>
<ellipse cx="443.8" cy="559.5" rx="1.8" ry="3" transform="rotate(10 443.8 559.5)" fill="#000"/>
<path d="M431,551 Q428,560 433,570" fill="none"/>
<path d="M440.5,542 Q446,542 450,547" fill="none"/>
<path d="M499.7,425.2 L763.4,254.6" fill="none" stroke-width="2.0"/>
<path d="M501.1,427.4 L764.8,256.8" fill="none" stroke-width="1.1"/>
<path d="M555.8,401.4 L703.6,305.8" fill="none" stroke-width="1.0"/>
<path d="M505.5,428.6 L763.3,261.8" fill="none"/>
<path d="M499.7,425.2 L501.0,429.1 L506.0,433.1 L512.4,430.1 L511.4,424.8" fill="none"/>
<path d="M763.4,254.6 L768.1,256.4 L768.6,260.8 L763.2,265.5 L759.9,264.0" fill="none"/>
<path d="M511.4,424.8 L537.6,410.2 L568.1,392.9" fill="none"/>
<path d="M514.9,426.7 L539.8,413.5 L566.1,398.9 L570.3,396.2" fill="none"/>
<path d="M700.0,307.6 L730.8,285.3 L759.1,264.6" fill="none"/>
<path d="M702.7,311.8 L733.0,288.6 L756.8,270.2" fill="none"/>
<path d="M556.7,399.1 L565.8,398.5 L698.5,312.7 L702.8,304.6" fill="none"/>
<path d="M562.5,400.7 L569.1,403.6 L701.8,317.7 L702.7,311.8" fill="none"/>
<path d="M544.5,396.8 L549.1,404.0" fill="none" stroke-width="1.6"/>
<path d="M577.7,375.3 L582.4,382.5" fill="none" stroke-width="1.6"/>
<path d="M611.0,353.8 L615.6,360.9" fill="none" stroke-width="1.6"/>
<path d="M645.7,331.4 L650.3,338.5" fill="none" stroke-width="1.6"/>
<path d="M680.4,308.9 L685.0,316.1" fill="none" stroke-width="1.6"/>
<path d="M713.5,287.5 L718.1,294.6" fill="none" stroke-width="1.6"/>
<path d="M745.1,267.1 L749.7,274.2" fill="none" stroke-width="1.6"/>
<path d="M581.9,390.2 L589.4,385.3 L590.8,387.5 L583.3,392.3Z" fill="none" stroke-width="0.9"/>
<path d="M595.3,381.5 L602.9,376.6 L604.3,378.8 L596.7,383.7Z" fill="none" stroke-width="0.9"/>
<path d="M608.7,372.8 L616.3,367.9 L617.7,370.1 L610.1,375.0Z" fill="none" stroke-width="0.9"/>
<path d="M659.1,340.2 L666.7,335.3 L668.1,337.5 L660.5,342.4Z" fill="none" stroke-width="0.9"/>
<path d="M672.6,331.5 L680.1,326.6 L681.5,328.8 L674.0,333.7Z" fill="none" stroke-width="0.9"/>
<path d="M686.0,322.8 L693.6,317.9 L695.0,320.1 L687.4,325.0Z" fill="none" stroke-width="0.9"/>
<path d="M626.3,357.6 L631.7,366.0 L635.9,366.9 L646.0,360.4 L646.9,356.2 L641.4,347.8 L637.5,347.4 L627.5,353.9Z" fill="none" stroke-width="1.5"/>
<ellipse cx="636.6" cy="356.9" rx="3.2" ry="3.2" transform="rotate(0 636.6 356.9)" fill="none" stroke-width="1.3"/>
<path d="M629.2,352.8 L637.6,365.8" fill="none" stroke-width="1.0"/>
<path d="M637.4,374.4 L548.0,452.1 L529.0,487.3 L483.2,553.5" fill="none"/>
<path d="M641.8,378.8 L551.0,456.5 L533.4,487.3 L490.0,556.9" fill="none"/>
<path d="M545.0,465.0 L497.8,561.4" fill="none"/>
<path d="M637.4,374.4 C637.8,374.2 639.2,373.1 640.0,373.5 C640.8,373.9 641.7,376.1 642.0,377.0 C642.3,377.9 641.8,378.5 641.8,378.8" fill="none"/>
<path d="M481.0,552.0 L485.5,549.5 L488.0,553.0 L487.5,561.0 L482.0,562.0Z" fill="none" stroke-width="1.6"/>
<path d="M484.3,561.0 L499.0,561.0 L499.0,564.2 L484.3,564.2Z" fill="none" stroke-width="1.6"/>
<path d="M474.5,565.0 C473.1,565.4 468.3,565.7 466.0,567.5 C463.7,569.3 461.2,573.1 460.5,576.0 C459.8,578.9 460.8,582.8 462.0,585.0 C463.2,587.2 467.0,588.3 468.0,589.0" fill="none"/>
<path d="M478.5,565.5 C477.2,566.1 472.6,567.1 470.5,569.0 C468.4,570.9 466.5,574.2 466.0,577.0 C465.5,579.8 466.3,583.8 467.5,586.0 C468.7,588.2 472.1,589.8 473.0,590.5" fill="none"/>
<ellipse cx="478.7" cy="578.9" rx="9" ry="10.7" transform="rotate(25 478.7 578.9)" fill="none" stroke-width="1.4"/>
<ellipse cx="479.5" cy="578.9" rx="6" ry="8.5" transform="rotate(25 479.5 578.9)" fill="none"/>
<ellipse cx="503.4" cy="593.5" rx="6.8" ry="9" transform="rotate(15 503.4 593.5)" fill="none" stroke-width="1.6"/>
<ellipse cx="504.8" cy="593" rx="4.3" ry="6" transform="rotate(15 504.8 593)" fill="none" stroke-width="1.6"/>
<path d="M502.5,597.0 L507.0,589.0" fill="none" stroke-width="2.2"/>
<ellipse cx="533.9" cy="611.6" rx="7.5" ry="8.5" transform="rotate(10 533.9 611.6)" fill="none" stroke-width="1.4"/>
<ellipse cx="536" cy="611.5" rx="4.8" ry="6" transform="rotate(10 536 611.5)" fill="none" stroke-width="1.2"/>
<path d="M533.0,614.0 L539.0,608.0" fill="none" stroke-width="1.4"/>
<path d="M535.0,607.0 L536.0,616.0" fill="none" stroke-width="0.9"/>
<path d="M592.9,612.1 C593.4,612.1 594.5,611.7 596.0,612.4 C597.5,613.1 600.3,615.0 602.2,616.2 C604.1,617.5 605.0,618.2 607.2,619.9 C609.4,621.5 614.2,624.5 615.6,626.1 C617.0,627.7 616.1,628.1 615.6,629.2 C615.1,630.3 614.1,631.6 612.8,632.9 C611.5,634.2 609.0,635.1 607.8,637.2 C606.5,639.3 605.9,641.9 605.3,645.3 C604.7,648.7 605.0,654.6 604.4,657.7 C603.8,660.8 602.7,662.5 601.6,663.9 C600.5,665.3 600.1,666.2 597.9,666.4 C595.7,666.5 591.4,665.7 588.6,664.8 C585.8,663.9 583.2,662.5 581.2,660.8 C579.2,659.1 577.6,657.0 576.8,654.6 C576.0,652.2 576.1,648.8 576.5,646.5 C576.9,644.2 577.7,643.6 579.3,641.0 C580.9,638.4 584.9,633.9 586.1,631.0 C587.3,628.1 585.3,626.8 586.4,623.6 C587.5,620.5 591.8,614.0 592.9,612.1" fill="none" stroke-width="1.2"/>
<path d="M594.5,614.3 C594.5,615.2 594.4,618.7 594.8,619.9 C595.2,621.1 596.0,621.3 596.7,621.4 C597.4,621.5 598.4,621.3 599.1,620.5 C599.8,619.7 600.4,617.4 600.7,616.8" fill="none"/>
<path d="M603.5,619.3 C602.4,620.8 598.2,625.7 596.7,628.0 C595.2,630.3 594.8,631.4 594.2,632.9 C593.6,634.4 593.4,636.5 593.2,637.2" fill="none"/>
<path d="M593.6,641.0 C593.5,642.2 593.5,646.1 592.9,648.4 C592.3,650.7 590.7,653.2 589.8,654.6 C588.9,656.0 589.2,656.5 587.4,656.5 C585.5,656.5 580.2,654.9 578.7,654.6" fill="none"/>
<path d="M597.3,630.1 L606.0,634.8" fill="none"/>
<path d="M606.0,620.5 L610.9,625.5" fill="none"/>
<path d="M590.5,659.6 C591.2,660.2 593.4,662.7 594.8,663.3 C596.2,663.9 598.4,663.3 599.1,663.3" fill="none"/>
<path d="M698.5,474.6 L757.0,441.5 L761.0,440.0 L765.5,440.3 L791.5,455.0 L792.5,458.0 L791.5,460.5 L732.0,495.5 L727.0,496.0 L723.5,494.8 L698.0,480.5 L696.5,477.5Z" fill="none" stroke-width="1.2"/>
<path d="M697.5,480.5 L700.0,483.0 L724.0,496.8 L731.0,497.2 L792.0,462.0" fill="none" stroke-width="1.0"/>
<path d="M729.6,467.5 L747.0,476.5" fill="none" stroke-width="2.0"/>
<path d="M729.6,467.5 L733.0,464.5" fill="none" stroke-width="1.2"/>
<ellipse cx="714" cy="469.5" rx="0.55" ry="0.55" transform="rotate(0 714 469.5)" fill="#000"/>
<ellipse cx="722" cy="466" rx="0.55" ry="0.55" transform="rotate(0 722 466)" fill="#000"/>
<ellipse cx="740" cy="458" rx="0.55" ry="0.55" transform="rotate(0 740 458)" fill="#000"/>
<ellipse cx="752" cy="452" rx="0.55" ry="0.55" transform="rotate(0 752 452)" fill="#000"/>
<ellipse cx="767" cy="446.5" rx="0.55" ry="0.55" transform="rotate(0 767 446.5)" fill="#000"/>
<ellipse cx="773" cy="451" rx="0.55" ry="0.55" transform="rotate(0 773 451)" fill="#000"/>
<ellipse cx="777" cy="456" rx="0.55" ry="0.55" transform="rotate(0 777 456)" fill="#000"/>
<ellipse cx="781" cy="460" rx="0.55" ry="0.55" transform="rotate(0 781 460)" fill="#000"/>
<ellipse cx="745" cy="478" rx="0.55" ry="0.55" transform="rotate(0 745 478)" fill="#000"/>
<ellipse cx="758" cy="471" rx="0.55" ry="0.55" transform="rotate(0 758 471)" fill="#000"/>
<ellipse cx="735" cy="486" rx="0.55" ry="0.55" transform="rotate(0 735 486)" fill="#000"/>
<ellipse cx="718" cy="481" rx="0.55" ry="0.55" transform="rotate(0 718 481)" fill="#000"/>
<ellipse cx="708" cy="476" rx="0.55" ry="0.55" transform="rotate(0 708 476)" fill="#000"/>
<ellipse cx="762" cy="445" rx="0.55" ry="0.55" transform="rotate(0 762 445)" fill="#000"/>
<ellipse cx="760" cy="465" rx="0.55" ry="0.55" transform="rotate(0 760 465)" fill="#000"/>
<ellipse cx="752" cy="470" rx="0.55" ry="0.55" transform="rotate(0 752 470)" fill="#000"/>
<ellipse cx="743" cy="466" rx="0.55" ry="0.55" transform="rotate(0 743 466)" fill="#000"/>
<ellipse cx="730" cy="483" rx="0.55" ry="0.55" transform="rotate(0 730 483)" fill="#000"/>
<ellipse cx="705" cy="471" rx="0.55" ry="0.55" transform="rotate(0 705 471)" fill="#000"/>
<path d="M717.6,680.0 C718.3,678.4 719.0,672.8 722.0,670.5 C725.0,668.2 730.7,666.8 735.4,666.5 C740.1,666.2 746.5,666.6 750.0,668.5 C753.5,670.4 755.2,674.4 756.5,678.0 C757.8,681.6 758.1,686.2 757.5,690.0 C756.9,693.8 755.9,698.4 753.0,701.0 C750.1,703.6 744.3,705.0 740.0,705.5 C735.7,706.0 730.4,705.6 727.0,704.0 C723.6,702.4 721.1,698.7 719.5,696.0 C717.9,693.3 717.9,690.7 717.6,688.0 C717.3,685.3 717.6,681.3 717.6,680.0" fill="none" stroke-width="1.2"/>
<ellipse cx="747.5" cy="686.5" rx="10" ry="18.5" transform="rotate(0 747.5 686.5)" fill="none"/>
<path d="M731,668.5 Q723,686 731,704.5" fill="none"/>
<path d="M738,667.5 Q731,686 738,705" fill="none"/>
<ellipse cx="746" cy="690" rx="4.5" ry="7" transform="rotate(25 746 690)" fill="none"/>
<ellipse cx="746.5" cy="690" rx="2.6" ry="4.5" transform="rotate(25 746.5 690)" fill="none"/>
<ellipse cx="773.4" cy="705.7" rx="7.2" ry="8.8" transform="rotate(15 773.4 705.7)" fill="none" stroke-width="1.6"/>
<ellipse cx="774.5" cy="705.2" rx="4.3" ry="5.5" transform="rotate(15 774.5 705.2)" fill="none"/>
<path d="M771.0,708.0 L777.0,702.0" fill="none" stroke-width="1.0"/>
<path d="M769.0,702.0 L770.0,709.0" fill="none" stroke-width="0.9"/>
<path d="M792.0,725.0 C792.3,723.5 792.7,718.4 794.0,716.0 C795.3,713.6 797.7,711.7 800.0,710.5 C802.3,709.3 805.3,708.9 808.0,709.0 C810.7,709.1 814.0,709.8 816.0,711.0 C818.0,712.2 819.2,713.8 820.0,716.0 C820.8,718.2 821.2,721.3 821.0,724.0 C820.8,726.7 820.2,729.6 819.0,732.0 C817.8,734.4 816.5,737.2 814.0,738.5 C811.5,739.8 807.0,740.3 804.0,740.0 C801.0,739.7 797.9,738.0 796.0,736.5 C794.1,735.0 793.2,732.9 792.5,731.0 C791.8,729.1 792.1,726.0 792.0,725.0" fill="none" stroke-width="1.2"/>
<ellipse cx="813.5" cy="729.5" rx="6.5" ry="10" transform="rotate(10 813.5 729.5)" fill="none"/>
<ellipse cx="814" cy="730" rx="4" ry="6" transform="rotate(10 814 730)" fill="none"/>
<ellipse cx="814" cy="730" rx="2.2" ry="3.5" transform="rotate(10 814 730)" fill="none"/>
<ellipse cx="798" cy="718" rx="0.6" ry="0.6" transform="rotate(0 798 718)" fill="#000"/>
<ellipse cx="801" cy="730" rx="0.6" ry="0.6" transform="rotate(0 801 730)" fill="#000"/>
<ellipse cx="796" cy="726" rx="0.6" ry="0.6" transform="rotate(0 796 726)" fill="#000"/>
<ellipse cx="805" cy="714" rx="0.6" ry="0.6" transform="rotate(0 805 714)" fill="#000"/>
<ellipse cx="803" cy="722" rx="0.6" ry="0.6" transform="rotate(0 803 722)" fill="#000"/>
<ellipse cx="808" cy="736" rx="0.6" ry="0.6" transform="rotate(0 808 736)" fill="#000"/>
<ellipse cx="839.5" cy="744.7" rx="8" ry="8.5" transform="rotate(10 839.5 744.7)" fill="none" stroke-width="1.6"/>
<ellipse cx="841" cy="744.7" rx="4.5" ry="5.5" transform="rotate(10 841 744.7)" fill="none"/>
<path d="M838.0,747.0 L844.0,741.0" fill="none" stroke-width="1.2"/>
<path d="M833.0,741.0 L834.0,750.0" fill="none" stroke-width="0.9"/>
<path d="M148.5,842.0 C152.1,840.2 162.4,834.8 170.0,831.0 C177.6,827.2 185.6,823.5 194.1,819.0 C202.6,814.5 212.2,810.7 221.2,804.2 C230.2,797.7 240.5,786.8 248.2,779.8 C255.9,772.8 261.8,767.8 267.2,762.2 C272.6,756.6 276.6,750.7 280.7,746.0 C284.8,741.3 287.0,736.7 291.5,733.8 C296.0,730.9 302.3,729.1 307.7,728.4 C313.1,727.7 318.6,728.2 324.0,729.8 C329.4,731.4 335.7,736.1 340.2,737.9 C344.7,739.7 347.8,741.0 351.0,740.6 C354.2,740.2 357.2,737.9 359.2,735.2 C361.2,732.5 362.5,727.6 363.2,724.4 C363.9,721.2 363.3,717.4 363.3,716.0" stroke-width="8.8" stroke-linecap="butt"/>
<path d="M148.5,842.0 C152.1,840.2 162.4,834.8 170.0,831.0 C177.6,827.2 185.6,823.5 194.1,819.0 C202.6,814.5 212.2,810.7 221.2,804.2 C230.2,797.7 240.5,786.8 248.2,779.8 C255.9,772.8 261.8,767.8 267.2,762.2 C272.6,756.6 276.6,750.7 280.7,746.0 C284.8,741.3 287.0,736.7 291.5,733.8 C296.0,730.9 302.3,729.1 307.7,728.4 C313.1,727.7 318.6,728.2 324.0,729.8 C329.4,731.4 335.7,736.1 340.2,737.9 C344.7,739.7 347.8,741.0 351.0,740.6 C354.2,740.2 357.2,737.9 359.2,735.2 C361.2,732.5 362.5,727.6 363.2,724.4 C363.9,721.2 363.3,717.4 363.3,716.0" stroke="#fff" stroke-width="6.6000000000000005" stroke-linecap="butt"/>
<path d="M148.5,842.0 C152.1,840.2 162.4,834.8 170.0,831.0 C177.6,827.2 185.6,823.5 194.1,819.0 C202.6,814.5 212.2,810.7 221.2,804.2 C230.2,797.7 240.5,786.8 248.2,779.8 C255.9,772.8 261.8,767.8 267.2,762.2 C272.6,756.6 276.6,750.7 280.7,746.0 C284.8,741.3 287.0,736.7 291.5,733.8 C296.0,730.9 302.3,729.1 307.7,728.4 C313.1,727.7 318.6,728.2 324.0,729.8 C329.4,731.4 335.7,736.1 340.2,737.9 C344.7,739.7 347.8,741.0 351.0,740.6 C354.2,740.2 357.2,737.9 359.2,735.2 C361.2,732.5 362.5,727.6 363.2,724.4 C363.9,721.2 363.3,717.4 363.3,716.0" stroke-width="1.1" stroke-dasharray="0.8 7 0.8 11" stroke-dashoffset="3" transform="translate(0.8,0.6)"/>
<ellipse cx="146.5" cy="842.6" rx="3.2" ry="5" transform="rotate(-30 146.5 842.6)" fill="none" stroke-width="1.8"/>
<ellipse cx="363.3" cy="715.5" rx="4.8" ry="2.6" transform="rotate(0 363.3 715.5)" fill="none" stroke-width="1.3"/>
<path d="M358.3,706.5 C358.3,703.1 357.9,690.2 358.3,686.2 C358.8,682.2 359.6,683.3 361.0,682.7 C362.4,682.1 364.0,681.9 366.4,682.7 C368.8,683.6 374.0,686.9 375.5,687.8" fill="none"/>
<path d="M367.4,706.5 C367.4,704.4 366.9,695.8 367.4,693.8 C367.9,691.8 369.9,694.3 370.4,694.4" fill="none"/>
<path d="M358.3,706.5 C359.1,706.8 361.3,708.2 362.8,708.2 C364.3,708.2 366.6,706.8 367.4,706.5" fill="none"/>
<ellipse cx="374.5" cy="694.6" rx="3.2" ry="6.5" transform="rotate(-20 374.5 694.6)" fill="none" stroke-width="2"/>
<path d="M376.0,688.0 L388.0,693.5" fill="none"/>
<path d="M378.0,701.5 L388.7,704.5" fill="none"/>
<path d="M386.7,697.4 L402.9,692.3 L417.6,704.0 L402.9,710.6 L388.7,704.5 L386.7,697.4" fill="none" stroke-width="1.2"/>
<path d="M388.7,704.5 L389.7,716.2 L405.9,722.3 L417.6,716.2 L417.6,704.0" fill="none" stroke-width="1.2"/>
<path d="M405.0,711.5 L405.9,722.3" fill="none"/>
<path d="M386.0,695.0 L384.0,707.0 L386.0,714.0 L389.7,716.2" fill="none"/>
<path d="M389.0,699.0 L404.0,694.0" fill="none" stroke-width="0.9"/>
<path d="M112.0,858.5 C112.7,858.2 114.8,856.2 116.0,856.5 C117.2,856.8 119.1,858.8 119.5,860.0 C119.9,861.2 119.4,862.9 118.5,864.0 C117.6,865.1 115.3,866.5 114.0,866.5 C112.7,866.5 110.9,865.3 110.6,864.0 C110.3,862.7 111.8,859.4 112.0,858.5" fill="none"/>
<path d="M118.0,857.5 L123.0,855.0" fill="none"/>
<path d="M119.5,862.5 L124.0,860.0" fill="none"/>
<path d="M122.0,852.0 C122.7,851.6 124.7,849.6 126.0,849.5 C127.3,849.4 129.0,850.4 130.0,851.5 C131.0,852.6 132.2,854.6 132.0,856.0 C131.8,857.4 130.3,859.1 129.0,860.0 C127.7,860.9 125.2,861.8 124.0,861.5 C122.8,861.2 121.8,859.6 121.5,858.0 C121.2,856.4 121.9,853.0 122.0,852.0" fill="none" stroke-width="2.0"/>
<path d="M126.0,851.0 L128.0,860.0" fill="none" stroke-width="1.0"/>
<path d="M131.0,849.0 L138.0,845.0" fill="none"/>
<path d="M133.0,855.5 L140.0,852.0" fill="none"/>
<ellipse cx="139.8" cy="847.5" rx="3" ry="4.2" transform="rotate(-30 139.8 847.5)" fill="none" stroke-width="1.4"/>
<path d="M106.0,867.2 C103.8,868.1 97.5,870.0 92.7,872.4 C87.9,874.8 81.5,878.0 77.0,881.3 C72.5,884.6 68.9,888.1 66.0,892.3 C63.1,896.5 61.2,901.7 59.8,906.4 C58.4,911.1 57.8,915.5 57.4,920.5 C57.0,925.5 57.3,931.8 57.4,936.2 C57.5,940.7 57.8,943.8 58.2,947.2 C58.6,950.6 58.5,952.7 59.8,956.6 C61.1,960.5 63.1,965.5 66.0,970.7 C68.9,975.9 73.3,982.4 77.0,987.9 C80.7,993.4 84.9,998.4 88.0,1003.6 C91.1,1008.8 94.1,1014.1 95.8,1019.3 C97.5,1024.5 97.6,1028.2 98.0,1035.0 C98.4,1041.8 98.0,1046.8 98.0,1060.0 C98.0,1073.2 98.0,1105.0 98.0,1114.0" stroke-width="9.5" stroke-linecap="butt"/>
<path d="M106.0,867.2 C103.8,868.1 97.5,870.0 92.7,872.4 C87.9,874.8 81.5,878.0 77.0,881.3 C72.5,884.6 68.9,888.1 66.0,892.3 C63.1,896.5 61.2,901.7 59.8,906.4 C58.4,911.1 57.8,915.5 57.4,920.5 C57.0,925.5 57.3,931.8 57.4,936.2 C57.5,940.7 57.8,943.8 58.2,947.2 C58.6,950.6 58.5,952.7 59.8,956.6 C61.1,960.5 63.1,965.5 66.0,970.7 C68.9,975.9 73.3,982.4 77.0,987.9 C80.7,993.4 84.9,998.4 88.0,1003.6 C91.1,1008.8 94.1,1014.1 95.8,1019.3 C97.5,1024.5 97.6,1028.2 98.0,1035.0 C98.4,1041.8 98.0,1046.8 98.0,1060.0 C98.0,1073.2 98.0,1105.0 98.0,1114.0" stroke="#fff" stroke-width="7.3" stroke-linecap="butt"/>
<path d="M106.0,867.2 C103.8,868.1 97.5,870.0 92.7,872.4 C87.9,874.8 81.5,878.0 77.0,881.3 C72.5,884.6 68.9,888.1 66.0,892.3 C63.1,896.5 61.2,901.7 59.8,906.4 C58.4,911.1 57.8,915.5 57.4,920.5 C57.0,925.5 57.3,931.8 57.4,936.2 C57.5,940.7 57.8,943.8 58.2,947.2 C58.6,950.6 58.5,952.7 59.8,956.6 C61.1,960.5 63.1,965.5 66.0,970.7 C68.9,975.9 73.3,982.4 77.0,987.9 C80.7,993.4 84.9,998.4 88.0,1003.6 C91.1,1008.8 94.1,1014.1 95.8,1019.3 C97.5,1024.5 97.6,1028.2 98.0,1035.0 C98.4,1041.8 98.0,1046.8 98.0,1060.0 C98.0,1073.2 98.0,1105.0 98.0,1114.0" stroke-width="1.1" stroke-dasharray="0.8 7 0.8 11" stroke-dashoffset="3" transform="translate(0.8,0.6)"/>
<ellipse cx="106" cy="866" rx="3" ry="5.5" transform="rotate(-25 106 866)" fill="none"/>
<path d="M51,946 Q55,944 57,947 Q60,950 64,947.5" fill="none" stroke-width="0.9"/>
<path d="M52,953 Q56,951 58,954 Q61,957 65,954.5" fill="none" stroke-width="0.9"/>
<path d="M93.0,1114.0 L103.0,1114.0" fill="none"/>
<path d="M96.5,1114.0 L96.5,1133.0" fill="none" stroke-dasharray="3 3"/>
<path d="M96.5,1165.0 L96.5,1178.0" fill="none" stroke-dasharray="3 3"/>
<path d="M94.0,1136.0 C94.4,1135.5 95.7,1133.0 96.5,1133.0 C97.3,1133.0 98.6,1134.7 99.0,1136.0 C99.4,1137.3 98.7,1139.8 99.0,1141.0 C99.3,1142.2 100.7,1140.5 101.0,1143.0 C101.3,1145.5 101.3,1153.5 101.0,1156.0 C100.7,1158.5 99.3,1156.8 99.0,1158.0 C98.7,1159.2 99.4,1161.7 99.0,1163.0 C98.6,1164.3 97.3,1166.0 96.5,1166.0 C95.7,1166.0 94.4,1164.3 94.0,1163.0 C93.6,1161.7 94.3,1159.2 94.0,1158.0 C93.7,1156.8 92.3,1158.5 92.0,1156.0 C91.7,1153.5 91.7,1145.5 92.0,1143.0 C92.3,1140.5 93.7,1142.2 94.0,1141.0 C94.3,1139.8 94.0,1136.8 94.0,1136.0" fill="none"/>
<ellipse cx="96.5" cy="1149" rx="4" ry="4.5" transform="rotate(0 96.5 1149)" fill="none"/>
<path d="M192.1,866.6 L211.5,856.1" fill="none"/>
<path d="M197.1,875.7 L216.4,865.2" fill="none"/>
<ellipse cx="166.5" cy="886.5" rx="2.2" ry="10.5" transform="rotate(-28.569711982940248 166.5 886.5)" fill="none" stroke-width="1.0"/>
<ellipse cx="170.3" cy="884.4" rx="2.2" ry="10.05" transform="rotate(-28.569711982940248 170.3 884.4)" fill="none" stroke-width="1.0"/>
<ellipse cx="174.1" cy="882.4" rx="2.2" ry="9.6" transform="rotate(-28.569711982940248 174.1 882.4)" fill="none" stroke-width="1.0"/>
<ellipse cx="177.9" cy="880.3" rx="2.2" ry="9.15" transform="rotate(-28.569711982940248 177.9 880.3)" fill="none" stroke-width="1.0"/>
<ellipse cx="181.6" cy="878.2" rx="2.2" ry="8.7" transform="rotate(-28.569711982940248 181.6 878.2)" fill="none" stroke-width="1.0"/>
<ellipse cx="185.4" cy="876.2" rx="2.2" ry="8.25" transform="rotate(-28.569711982940248 185.4 876.2)" fill="none" stroke-width="1.0"/>
<ellipse cx="189.2" cy="874.1" rx="2.2" ry="7.8" transform="rotate(-28.569711982940248 189.2 874.1)" fill="none" stroke-width="1.0"/>
<ellipse cx="193.0" cy="872.1" rx="2.2" ry="7.35" transform="rotate(-28.569711982940248 193.0 872.1)" fill="none" stroke-width="1.0"/>
<ellipse cx="214.0" cy="860.6" rx="2.2" ry="7.8" transform="rotate(-28.569711982940248 214.0 860.6)" fill="none" stroke-width="1.0"/>
<ellipse cx="217.5" cy="858.7" rx="2.2" ry="8.1" transform="rotate(-28.569711982940248 217.5 858.7)" fill="none" stroke-width="1.0"/>
<ellipse cx="221.0" cy="856.8" rx="2.2" ry="8.4" transform="rotate(-28.569711982940248 221.0 856.8)" fill="none" stroke-width="1.0"/>
<ellipse cx="224.5" cy="854.9" rx="2.2" ry="8.7" transform="rotate(-28.569711982940248 224.5 854.9)" fill="none" stroke-width="1.0"/>
<ellipse cx="228.0" cy="853.0" rx="2.2" ry="9.0" transform="rotate(-28.569711982940248 228.0 853.0)" fill="none" stroke-width="1.0"/>
<ellipse cx="231.5" cy="851.1" rx="2.2" ry="9.3" transform="rotate(-28.569711982940248 231.5 851.1)" fill="none" stroke-width="1.0"/>
<ellipse cx="235.0" cy="849.2" rx="2.2" ry="9.6" transform="rotate(-28.569711982940248 235.0 849.2)" fill="none" stroke-width="1.0"/>
<ellipse cx="238.5" cy="847.3" rx="2.2" ry="9.9" transform="rotate(-28.569711982940248 238.5 847.3)" fill="none" stroke-width="1.0"/>
<ellipse cx="159.5" cy="890.3" rx="7.5" ry="12.8" transform="rotate(-28.569711982940248 159.5 890.3)" fill="none" stroke-width="1.8"/>
<ellipse cx="159.9" cy="890.1" rx="4.5" ry="8.5" transform="rotate(-28.569711982940248 159.9 890.1)" fill="none" stroke-width="1.1"/>
<ellipse cx="160.4" cy="889.8" rx="3" ry="5.5" transform="rotate(-28.569711982940248 160.4 889.8)" fill="none"/>
<ellipse cx="243.8" cy="844.4" rx="5.5" ry="13.5" transform="rotate(-28.569711982940248 243.8 844.4)" fill="none" stroke-width="1.2"/>
<ellipse cx="247.3" cy="842.5" rx="5.5" ry="13.8" transform="rotate(-28.569711982940248 247.3 842.5)" fill="none" stroke-width="1.4"/>
<path d="M235.2,834.8 L240.9,830.6" fill="none"/>
<path d="M247.2,856.8 L253.8,854.3" fill="none"/>
<ellipse cx="267.2" cy="829" rx="10" ry="11.4" transform="rotate(-15 267.2 829)" fill="none" stroke-width="1.3"/>
<ellipse cx="268" cy="829.5" rx="7.5" ry="8.5" transform="rotate(-15 268 829.5)" fill="none"/>
<ellipse cx="267.5" cy="829" rx="4.5" ry="5.5" transform="rotate(-15 267.5 829)" fill="none" stroke-width="1.2"/>
<path d="M259.0,824.0 L263.0,822.0 L265.0,828.0" fill="none" stroke-width="1.2"/>
<path d="M432.5,965.4 L430.0,969.0 L425.4,976.0 L425.4,1035.2 L432.0,1043.0 L440.8,1047.0 L445.5,1051.8 L445.5,1088.5 L504.7,1126.4 L540.2,1108.6 L540.2,1070.7 L547.3,1063.6 L547.3,1044.7 L580.5,1023.4 L586.4,1018.6 L586.4,983.1 L585.2,981.9 L502.3,932.2 L483.4,932.2 L432.5,965.4" fill="none" stroke-width="1.2"/>
<path d="M432.5,973.6 L515.4,1017.4 L585.2,985.5" fill="none"/>
<path d="M515.4,1020.0 L515.4,1066.0" fill="none" stroke-dasharray="5 3"/>
<path d="M504.7,1071.9 L504.7,1126.0" fill="none" stroke-dasharray="5 3"/>
<path d="M504.7,1071.9 L520.0,1073.0 L540.2,1064.0" fill="none"/>
<ellipse cx="515.4" cy="1018" rx="1.5" ry="1.5" transform="rotate(0 515.4 1018)" fill="#000"/>
<ellipse cx="521.3" cy="971.3" rx="17.8" ry="8.3" transform="rotate(0 521.3 971.3)" fill="none" stroke-width="1.3"/>
<ellipse cx="521.3" cy="969" rx="14.5" ry="6.3" transform="rotate(0 521.3 969)" fill="none"/>
<ellipse cx="521.3" cy="972" rx="13" ry="5.5" transform="rotate(0 521.3 972)" fill="none"/>
<path d="M504.0,974.0 C503.3,975.8 501.7,981.0 500.0,985.0 C498.3,989.0 495.2,994.7 494.0,998.0 C492.8,1001.3 493.2,1003.8 493.0,1005.0" fill="none"/>
<path d="M538.0,975.0 C538.5,977.2 540.2,983.5 541.0,988.0 C541.8,992.5 542.3,999.7 542.6,1002.0" fill="none"/>
<path d="M520.0,980.0 C519.2,983.3 516.2,994.7 515.0,1000.0 C513.8,1005.3 513.3,1010.0 513.0,1012.0" fill="none"/>
<path d="M485.8,945.0 C485.8,944.2 485.1,942.0 485.8,940.5 C486.5,939.0 488.1,936.6 490.0,936.0 C491.9,935.4 494.9,936.0 497.0,937.0 C499.1,938.0 501.4,936.7 502.3,942.0 C503.2,947.3 503.0,965.2 502.3,968.9 C501.6,972.6 500.8,965.8 498.0,964.0 C495.2,962.2 487.8,961.2 485.8,958.0 C483.8,954.8 485.8,947.2 485.8,945.0" fill="none"/>
<ellipse cx="492" cy="945" rx="2" ry="2" transform="rotate(0 492 945)" fill="none"/>
<path d="M470.4,1008.0 L479.8,1012.0 L479.8,1031.6 L470.4,1027.6Z" fill="none"/>
<path d="M472.5,1011.0 L472.5,1026.0" fill="none"/>
<path d="M575.7,1003.0 C576.1,1002.2 576.6,999.0 578.0,998.0 C579.4,997.0 580.8,995.5 584.0,997.3 C587.2,999.1 594.3,1005.5 597.0,1009.0 C599.7,1012.5 599.8,1015.3 600.0,1018.0 C600.2,1020.7 599.3,1024.0 598.0,1025.0 C596.7,1026.0 595.7,1025.7 592.0,1024.0 C588.3,1022.3 578.7,1018.5 576.0,1015.0 C573.3,1011.5 575.8,1005.0 575.7,1003.0" fill="none"/>
<ellipse cx="590" cy="1015" rx="3.5" ry="3" transform="rotate(20 590 1015)" fill="none"/>
<path d="M532.0,1045.0 L538.0,1043.0 L538.0,1052.0 L534.0,1054.0 L532.0,1050.0Z" fill="none"/>
<path d="M522.5,917.0 L522.5,978.0 L515.4,1016.0" fill="none" stroke-dasharray="5 3"/>
<ellipse cx="522.2" cy="896.4" rx="22.8" ry="12.4" transform="rotate(0 522.2 896.4)" fill="none" stroke-width="1.3"/>
<ellipse cx="522" cy="896.6" rx="18" ry="9.7" transform="rotate(0 522 896.6)" fill="none"/>
<path d="M499.2,898.0 C499.2,898.8 498.9,900.9 499.5,903.0 C500.1,905.1 499.8,908.4 502.5,910.6 C505.2,912.8 511.9,915.0 516.0,916.0 C520.1,917.0 523.1,917.0 526.9,916.4 C530.7,915.8 535.5,914.3 538.6,912.4 C541.7,910.5 544.3,907.6 545.4,905.2 C546.5,902.8 545.1,899.2 545.0,898.0" fill="none" stroke-width="1.3"/>
<path d="M501.0,906.0 C502.5,907.0 506.5,910.7 510.0,912.0 C513.5,913.3 517.7,914.2 522.0,914.0 C526.3,913.8 532.3,912.7 536.0,911.0 C539.7,909.3 542.7,905.2 544.0,904.0" fill="none"/>
<path d="M499.5,889.0 L489.9,888.9 L489.0,882.6 L495.3,879.0 L507.0,886.2 L506.0,887.5" fill="none" stroke-width="1.3"/>
<path d="M495.0,884.0 L503.0,889.0" fill="none" stroke-width="1.6"/>
<path d="M513.0,895.0 C513.8,894.5 516.8,892.8 518.0,892.0 C519.2,891.2 519.7,890.8 520.0,890.5" fill="none" stroke-width="1.3"/>
<ellipse cx="525" cy="896.5" rx="4.5" ry="3" transform="rotate(0 525 896.5)" fill="none" stroke-width="1.8"/>
<ellipse cx="664.3" cy="781.5" rx="6.8" ry="7.4" transform="rotate(0 664.3 781.5)" fill="none" stroke-width="1.6"/>
<ellipse cx="663.5" cy="781.5" rx="3.2" ry="3.8" transform="rotate(0 663.5 781.5)" fill="none" stroke-width="1.2"/>
<path d="M668.0,776.0 L671.0,781.0 L668.0,787.0" fill="none" stroke-width="1.0"/>
<path d="M659,787.5 L612,813 Q609.2,815 609.2,819 L609.2,1000.4 Q609,1006 603,1009 L597.3,1012" fill="none" stroke-dasharray="5 3"/>
<ellipse cx="631" cy="986" rx="10" ry="12" transform="rotate(-15 631 986)" fill="none" stroke-width="1.8"/>
<ellipse cx="629.5" cy="987" rx="7" ry="9.2" transform="rotate(-15 629.5 987)" fill="none" stroke-width="1.3"/>
<ellipse cx="629" cy="987.5" rx="5.2" ry="7.2" transform="rotate(-15 629 987.5)" fill="none"/>
<path d="M657.1,931.6 L657.1,960.0" fill="none"/>
<path d="M685.5,931.6 L685.5,975.0" fill="none"/>
<path d="M661.0,979.7 C663.0,980.1 668.8,982.9 672.9,982.1 C677.0,981.3 683.4,976.2 685.5,975.0" fill="none"/>
<path d="M657.9,941.8 C659.4,942.5 663.6,945.3 666.6,945.8 C669.6,946.2 672.9,945.4 676.0,944.5 C679.1,943.6 683.9,941.0 685.5,940.3" fill="none"/>
<path d="M657.1,931.6 C657.1,930.9 656.5,929.2 657.1,927.6 C657.8,926.0 659.0,923.4 661.0,922.1 C663.0,920.8 665.9,919.8 668.9,919.7 C671.9,919.6 676.7,920.4 679.2,921.3 C681.7,922.2 683.2,924.4 684.0,925.0" fill="none"/>
<path d="M657.1,931.6 C658.0,932.4 660.2,935.2 662.6,936.3 C665.0,937.3 668.5,938.0 671.3,937.9 C674.1,937.8 676.7,936.5 679.2,935.5 C681.7,934.5 685.1,932.2 686.3,931.6" fill="none" stroke-width="1.2"/>
<path d="M657.5,929 Q660,935 671,937" fill="none" stroke-width="2.4"/>
<path d="M666.6,917.4 L677.6,911.8 L694.2,920.5 L694.2,925.3 L685.5,930.0 L682.0,929.0" fill="none" stroke-width="1.2"/>
<path d="M666.6,917.4 L668.0,920.0 L684.0,927.0 L694.2,920.5" fill="none"/>
<ellipse cx="674" cy="916" rx="0.9" ry="0.9" transform="rotate(0 674 916)" fill="#000"/>
<ellipse cx="678" cy="917" rx="0.9" ry="0.9" transform="rotate(0 678 917)" fill="#000"/>
<ellipse cx="682" cy="919" rx="0.9" ry="0.9" transform="rotate(0 682 919)" fill="#000"/>
<ellipse cx="676" cy="920" rx="0.9" ry="0.9" transform="rotate(0 676 920)" fill="#000"/>
<ellipse cx="680" cy="922" rx="0.9" ry="0.9" transform="rotate(0 680 922)" fill="#000"/>
<ellipse cx="685" cy="921" rx="0.9" ry="0.9" transform="rotate(0 685 921)" fill="#000"/>
<ellipse cx="688" cy="922" rx="0.9" ry="0.9" transform="rotate(0 688 922)" fill="#000"/>
<ellipse cx="651.2" cy="973.4" rx="6.5" ry="9" transform="rotate(-20 651.2 973.4)" fill="none" stroke-width="1.8"/>
<ellipse cx="651" cy="973.6" rx="4.3" ry="6.3" transform="rotate(-20 651 973.6)" fill="none"/>
<ellipse cx="656.5" cy="970.5" rx="3.2" ry="8.8" transform="rotate(-20 656.5 970.5)" fill="none" stroke-width="1.1"/>
<ellipse cx="660.3" cy="969.3" rx="3.2" ry="8.8" transform="rotate(-20 660.3 969.3)" fill="none" stroke-width="1.1"/>
<ellipse cx="664.1" cy="968.1" rx="3.2" ry="8.8" transform="rotate(-20 664.1 968.1)" fill="none" stroke-width="1.1"/>
<path d="M656.3,961.0 L668.0,962.0" fill="none"/>
<path d="M658.0,983.0 L670.5,977.0" fill="none"/>
<path d="M684.7,969.0 L691.0,968.7 L693.4,971.4 L691.0,974.2 L684.7,974.0Z" fill="none" stroke-width="1.2"/>
<ellipse cx="691.5" cy="971.4" rx="1.5" ry="2.6" transform="rotate(0 691.5 971.4)" fill="none" stroke-width="1.2"/>
<path d="M682.0,915.5 C684.2,914.2 690.7,910.0 695.0,907.5 C699.3,905.0 704.4,902.3 708.0,900.5 C711.6,898.7 714.1,897.7 716.5,896.5 C718.9,895.3 720.9,894.8 722.5,893.5 C724.1,892.2 725.9,890.4 726.3,889.0 C726.7,887.6 726.1,885.9 725.0,885.0 C723.9,884.1 721.7,883.7 719.5,883.5 C717.3,883.3 714.3,883.7 712.0,884.0 C709.7,884.3 706.8,884.8 705.5,885.5 C704.2,886.2 703.6,887.3 704.0,888.0 C704.4,888.7 706.3,889.8 708.0,889.5 C709.7,889.2 712.2,888.0 714.0,886.5 C715.8,885.0 717.2,882.7 719.0,880.5 C720.8,878.3 724.0,874.7 725.0,873.5" stroke-width="3.8" stroke-linecap="butt"/>
<path d="M682.0,915.5 C684.2,914.2 690.7,910.0 695.0,907.5 C699.3,905.0 704.4,902.3 708.0,900.5 C711.6,898.7 714.1,897.7 716.5,896.5 C718.9,895.3 720.9,894.8 722.5,893.5 C724.1,892.2 725.9,890.4 726.3,889.0 C726.7,887.6 726.1,885.9 725.0,885.0 C723.9,884.1 721.7,883.7 719.5,883.5 C717.3,883.3 714.3,883.7 712.0,884.0 C709.7,884.3 706.8,884.8 705.5,885.5 C704.2,886.2 703.6,887.3 704.0,888.0 C704.4,888.7 706.3,889.8 708.0,889.5 C709.7,889.2 712.2,888.0 714.0,886.5 C715.8,885.0 717.2,882.7 719.0,880.5 C720.8,878.3 724.0,874.7 725.0,873.5" stroke="#fff" stroke-width="1.5999999999999996" stroke-linecap="butt"/>
<path d="M700.0,905.0 C702.3,903.8 711.7,898.8 714.0,897.5" stroke-width="5.5" stroke-linecap="butt"/>
<path d="M700.0,905.0 C702.3,903.8 711.7,898.8 714.0,897.5" stroke="#fff" stroke-width="3.3" stroke-linecap="butt"/>
<path d="M724.2,859.9 L737.7,855.4 L744.5,859.4 L744.5,868.9 L728.7,877.9 L724.2,874.8Z" fill="none" stroke-width="1.3"/>
<path d="M724.2,859.9 L728.7,863.0 L744.5,859.4" fill="none"/>
<path d="M728.7,863.0 L728.7,877.9" fill="none"/>
<path d="M729.6,866.6 L744.5,862.5" fill="none" stroke-width="0.9"/>
<ellipse cx="733" cy="860" rx="0.9" ry="0.9" transform="rotate(0 733 860)" fill="#000"/>
<ellipse cx="737" cy="859" rx="0.9" ry="0.9" transform="rotate(0 737 859)" fill="#000"/>
<ellipse cx="740" cy="860.5" rx="0.9" ry="0.9" transform="rotate(0 740 860.5)" fill="#000"/>
<ellipse cx="731" cy="862.5" rx="0.9" ry="0.9" transform="rotate(0 731 862.5)" fill="#000"/>
<path d="M693.4,971.7 L708.6,978.6 L638.5,1072.4 L684.1,1086.5" fill="none" stroke-dasharray="5 3"/>
<path d="M714.8,1013.0 L714.8,1030.0" fill="none" stroke-dasharray="3 3"/>
<path d="M711.2,1032.0 L712.5,1030.7 L717.8,1030.7 L719.1,1032.0 L719.1,1061.0 L717.8,1062.3 L712.5,1062.3 L711.2,1061.0Z" fill="none" stroke-width="1.3"/>
<path d="M712.0,1064.5 L719.1,1064.5 L719.1,1088.8 L713.4,1095.0 L686.4,1089.9 L686.0,1084.0 L686.4,1083.7 L711.7,1088.2 L712.0,1064.5Z" fill="none" stroke-width="1.3"/>
<ellipse cx="714.5" cy="1045" rx="0.6" ry="0.6" transform="rotate(0 714.5 1045)" fill="#000"/>
<ellipse cx="715.5" cy="1072" rx="0.6" ry="0.6" transform="rotate(0 715.5 1072)" fill="#000"/>
<ellipse cx="696" cy="1087" rx="0.6" ry="0.6" transform="rotate(0 696 1087)" fill="#000"/>
<rect x="88.31" y="148" width="4.07" height="3" fill="#fff" stroke="none"/>
<rect x="94.17" y="148" width="3.98" height="3" fill="#fff" stroke="none"/>
<rect x="227.72" y="367" width="4.07" height="3" fill="#fff" stroke="none"/>
<rect x="233.58" y="367" width="3.98" height="3" fill="#fff" stroke="none"/>
<rect x="270.61" y="367" width="4.07" height="3" fill="#fff" stroke="none"/>
<rect x="276.47" y="367" width="3.98" height="3" fill="#fff" stroke="none"/>
<rect x="341.37" y="367" width="4.07" height="3" fill="#fff" stroke="none"/>
<rect x="347.24" y="367" width="3.98" height="3" fill="#fff" stroke="none"/>
<rect x="303.42" y="417" width="4.07" height="3" fill="#fff" stroke="none"/>
<rect x="309.28" y="417" width="3.98" height="3" fill="#fff" stroke="none"/>
<rect x="346.31" y="417" width="4.07" height="3" fill="#fff" stroke="none"/>
<rect x="352.17" y="417" width="3.98" height="3" fill="#fff" stroke="none"/>
<rect x="341.70" y="441" width="5.44" height="4" fill="#fff" stroke="none"/>
<rect x="349.55" y="441" width="5.31" height="4" fill="#fff" stroke="none"/>
<rect x="382.62" y="474" width="4.07" height="2" fill="#fff" stroke="none"/>
<rect x="388.48" y="474" width="3.98" height="2" fill="#fff" stroke="none"/>
<rect x="425.51" y="474" width="4.07" height="2" fill="#fff" stroke="none"/>
<rect x="431.37" y="474" width="3.98" height="2" fill="#fff" stroke="none"/>
<rect x="736.10" y="407" width="5.44" height="3" fill="#fff" stroke="none"/>
<rect x="743.95" y="407" width="5.31" height="3" fill="#fff" stroke="none"/>
<rect x="590.15" y="568" width="5.44" height="4" fill="#fff" stroke="none"/>
<rect x="597.99" y="568" width="5.31" height="4" fill="#fff" stroke="none"/>
<rect x="618.12" y="567" width="4.07" height="3" fill="#fff" stroke="none"/>
<rect x="623.98" y="567" width="3.98" height="3" fill="#fff" stroke="none"/>
<rect x="661.01" y="567" width="4.07" height="3" fill="#fff" stroke="none"/>
<rect x="666.87" y="567" width="3.98" height="3" fill="#fff" stroke="none"/>
<rect x="572.10" y="716" width="5.44" height="4" fill="#fff" stroke="none"/>
<rect x="579.95" y="716" width="5.31" height="4" fill="#fff" stroke="none"/>
<rect x="488.70" y="652" width="5.44" height="3" fill="#fff" stroke="none"/>
<rect x="496.55" y="652" width="5.31" height="3" fill="#fff" stroke="none"/>
<rect x="445.62" y="674" width="4.07" height="3" fill="#fff" stroke="none"/>
<rect x="451.48" y="674" width="3.98" height="3" fill="#fff" stroke="none"/>
<rect x="488.51" y="674" width="4.07" height="3" fill="#fff" stroke="none"/>
<rect x="494.37" y="674" width="3.98" height="3" fill="#fff" stroke="none"/>
<rect x="244.30" y="606" width="5.44" height="4" fill="#fff" stroke="none"/>
<rect x="252.15" y="606" width="5.31" height="4" fill="#fff" stroke="none"/>
<rect x="375.50" y="666" width="5.44" height="4" fill="#fff" stroke="none"/>
<rect x="383.35" y="666" width="5.31" height="4" fill="#fff" stroke="none"/>
<rect x="235.70" y="707" width="5.44" height="4" fill="#fff" stroke="none"/>
<rect x="243.55" y="707" width="5.31" height="4" fill="#fff" stroke="none"/>
<rect x="248.12" y="707" width="5.44" height="4" fill="#fff" stroke="none"/>
<rect x="255.97" y="707" width="5.31" height="4" fill="#fff" stroke="none"/>
<rect x="111.40" y="745" width="5.44" height="4" fill="#fff" stroke="none"/>
<rect x="119.25" y="745" width="5.31" height="4" fill="#fff" stroke="none"/>
<rect x="224.50" y="942" width="5.44" height="3" fill="#fff" stroke="none"/>
<rect x="232.35" y="942" width="5.31" height="3" fill="#fff" stroke="none"/>
<rect x="615.50" y="931" width="5.44" height="3" fill="#fff" stroke="none"/>
<rect x="623.35" y="931" width="5.31" height="3" fill="#fff" stroke="none"/>
<rect x="693.10" y="1149" width="5.44" height="4" fill="#fff" stroke="none"/>
<rect x="700.95" y="1149" width="5.31" height="4" fill="#fff" stroke="none"/>
</g></svg></body></html>
